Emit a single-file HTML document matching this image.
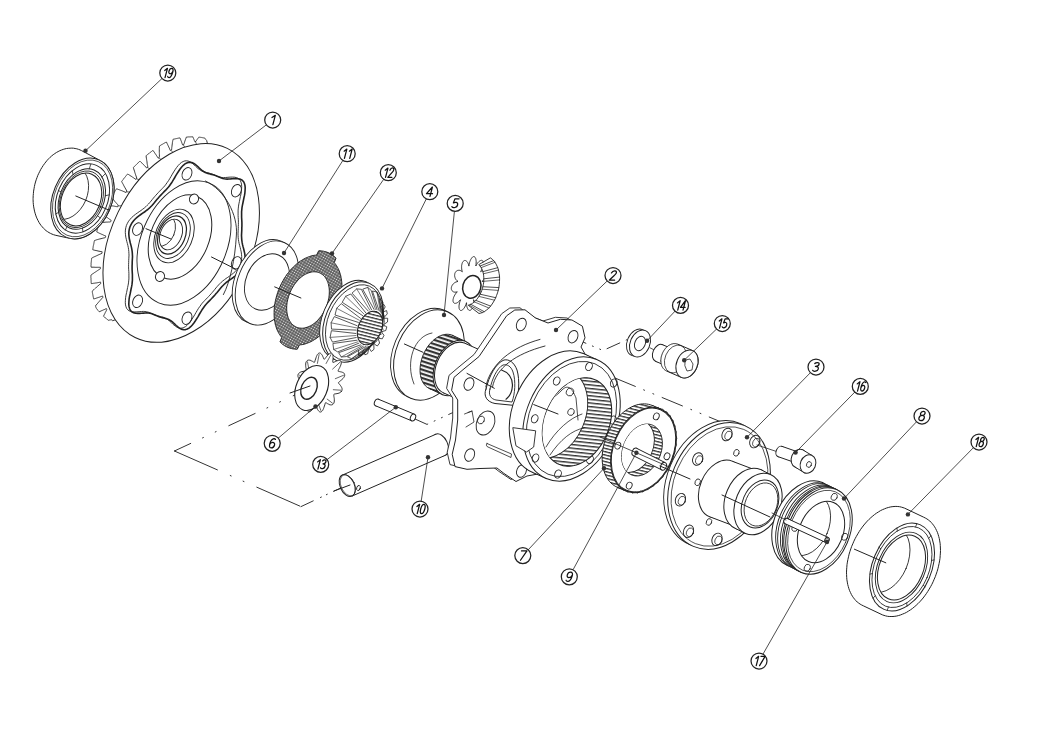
<!DOCTYPE html>
<html><head><meta charset="utf-8"><style>
html,body{margin:0;padding:0;background:#fff;}
svg{display:block;will-change:transform;}
</style></head><body>
<svg width="1043" height="736" viewBox="0 0 1043 736" stroke-linecap="round" stroke-linejoin="round">
<defs>
<pattern id="mesh" width="2.5" height="2.5" patternUnits="userSpaceOnUse" patternTransform="rotate(30)"><rect width="2.5" height="2.5" fill="#5e5e5e"/><circle cx="1.25" cy="1.25" r="0.72" fill="#eee"/></pattern>
<pattern id="spl2" width="3.2" height="3.2" patternUnits="userSpaceOnUse" patternTransform="rotate(14)"><rect width="3.2" height="3.2" fill="#fff"/><rect width="3.2" height="1.3" fill="#333"/></pattern>
<pattern id="spl3" width="3.6" height="3.6" patternUnits="userSpaceOnUse" patternTransform="rotate(6)"><rect width="3.6" height="3.6" fill="#fff"/><rect width="3.6" height="1.4" fill="#333"/></pattern>
<pattern id="spl" width="4" height="4" patternUnits="userSpaceOnUse" patternTransform="rotate(18)"><rect width="4" height="4" fill="#fff"/><rect width="4" height="2.2" fill="#333"/></pattern>
</defs>
<path d="M174.4,451.0 L308.6,388.6" stroke="#333" stroke-width="1.0" fill="none" stroke-dasharray="29 13 1 13 1 14" stroke-dashoffset="11"/>
<path d="M174.4,451.0 L301.0,506.6" stroke="#333" stroke-width="1.0" fill="none" stroke-dasharray="47 14 1 13 1 14" stroke-dashoffset="0"/>
<path d="M301.0,506.6 L346.0,485.5" stroke="#333" stroke-width="1.0" fill="none" stroke-dasharray="13.5 8 1 5.5 1 7" stroke-dashoffset="0"/>
<path d="M415.0,419.0 L427.0,424.4 L465.0,407.0" stroke="#333" stroke-width="1.0" fill="none" stroke-dasharray="14 7 1 7 1 7" stroke-dashoffset="0"/>
<path d="M573.0,337.8 L603.0,350.5 L628.5,339.0" stroke="#333" stroke-width="1.0" fill="none" stroke-dasharray="14 7 1 7 1 7" stroke-dashoffset="0"/>
<path d="M615.0,378.0 L720.0,421.5" stroke="#333" stroke-width="1.0" fill="none" stroke-dasharray="22 9 1 9 1 9" stroke-dashoffset="0"/>
<path d="M207.4,143.5 L206.7,140.6 L206.5,140.4 L206.3,140.1 L206.1,139.9 L205.9,139.7 L205.8,139.5 L205.6,139.2 L205.4,138.9 L205.2,138.7 L205.1,138.4 L204.9,138.1 L204.7,138.0 L204.4,138.0 L204.2,138.0 L204.0,137.9 L203.7,137.9 L203.5,137.8 L203.3,137.8 L203.1,137.7 L202.8,137.7 L202.6,137.7 L202.4,137.6 L202.1,137.6 L201.9,137.5 L201.7,137.5 L201.4,137.5 L201.2,137.4 L200.9,137.4 L200.7,137.4 L200.5,137.3 L200.2,137.3 L200.0,137.3 L199.8,137.3 L199.5,137.2 L199.3,137.2 L199.0,137.2 L198.8,137.2 L198.5,137.6 L198.2,138.0 L197.9,138.4 L197.6,138.9 L197.2,139.4 L196.9,139.8 L196.6,140.3 L196.3,140.8 L196.0,141.4 L195.8,141.4 L195.5,141.4 L195.3,141.5 L195.0,141.5 L194.8,141.6 L194.6,141.1 L194.4,140.7 L194.3,140.3 L194.1,139.8 L193.9,139.3 L193.7,138.8 L193.5,138.4 L193.3,137.9 L193.1,137.4 L192.9,136.8 L192.7,136.8 L192.4,136.8 L192.2,136.8 L191.9,136.8 L191.7,136.8 L191.4,136.8 L191.2,136.8 L190.9,136.8 L190.7,136.8 L190.4,136.9 L190.2,136.9 L189.9,136.9 L189.7,136.9 L189.4,136.9 L189.2,136.9 L188.9,136.9 L188.7,136.9 L188.4,136.9 L188.1,137.0 L187.9,137.0 L187.6,137.0 L187.4,137.0 L187.1,137.0 L186.9,137.0 L186.6,137.1 L186.3,137.1 L186.1,137.9 L185.8,138.6 L185.5,139.4 L185.2,140.2 L184.9,141.1 L184.6,141.9 L184.4,142.7 L184.1,143.6 L183.8,144.5 L183.6,144.6 L183.3,144.6 L183.1,144.7 L182.8,144.8 L182.6,144.9 L182.3,144.2 L182.1,143.6 L181.9,142.9 L181.6,142.2 L181.4,141.5 L181.1,140.8 L180.8,140.1 L180.6,139.4 L180.3,138.6 L180.0,137.9 L179.8,137.9 L179.5,138.0 L179.2,138.0 L179.0,138.1 L178.7,138.1 L178.4,138.2 L178.2,138.2 L177.9,138.3 L177.6,138.3 L177.4,138.4 L177.1,138.4 L176.8,138.5 L176.5,138.5 L176.3,138.6 L176.0,138.6 L175.7,138.7 L175.5,138.8 L175.2,138.8 L174.9,138.9 L174.6,139.0 L174.4,139.0 L174.1,139.1 L173.8,139.2 L173.5,139.2 L173.3,139.3 L173.0,139.4 L172.8,140.5 L172.6,141.6 L172.4,142.7 L172.3,143.9 L172.1,145.0 L172.0,146.2 L171.8,147.4 L171.7,148.6 L171.5,149.8 L171.3,150.0 L171.0,150.1 L170.8,150.2 L170.6,150.4 L170.3,150.5 L169.9,149.6 L169.6,148.8 L169.2,147.9 L168.8,147.1 L168.4,146.2 L168.0,145.4 L167.6,144.5 L167.2,143.7 L166.8,142.8 L166.4,142.0 L166.1,142.1 L165.9,142.3 L165.6,142.4 L165.3,142.6 L165.1,142.7 L164.8,142.9 L164.5,143.0 L164.2,143.2 L164.0,143.3 L163.7,143.5 L163.4,143.6 L163.2,143.8 L162.9,143.9 L162.6,144.1 L162.4,144.3 L162.1,144.4 L161.8,144.6 L161.5,144.7 L161.3,144.9 L161.0,145.1 L160.7,145.2 L160.5,145.4 L160.2,145.6 L159.9,145.7 L159.7,145.9 L159.4,146.1 L159.4,147.3 L159.3,148.6 L159.3,149.8 L159.3,151.1 L159.3,152.3 L159.4,153.6 L159.4,154.8 L159.4,156.1 L159.4,157.3 L159.2,157.5 L159.0,157.7 L158.7,157.9 L158.5,158.0 L158.2,158.2 L157.7,157.4 L157.2,156.6 L156.7,155.8 L156.2,155.1 L155.7,154.3 L155.1,153.5 L154.6,152.7 L154.1,152.0 L153.5,151.2 L152.9,150.4 L152.7,150.6 L152.4,150.8 L152.2,151.0 L151.9,151.2 L151.6,151.4 L151.4,151.6 L151.1,151.8 L150.8,152.0 L150.6,152.2 L150.3,152.4 L150.0,152.6 L149.8,152.8 L149.5,153.0 L149.2,153.2 L149.0,153.4 L148.7,153.6 L148.4,153.8 L148.2,154.0 L147.9,154.2 L147.7,154.5 L147.4,154.7 L147.1,154.9 L146.9,155.1 L146.6,155.3 L146.4,155.5 L146.1,155.7 L146.2,157.0 L146.4,158.2 L146.6,159.5 L146.8,160.7 L147.0,161.9 L147.1,163.2 L147.3,164.4 L147.6,165.6 L147.8,166.9 L147.5,167.1 L147.3,167.3 L147.1,167.5 L146.9,167.7 L146.6,167.9 L146.0,167.2 L145.3,166.5 L144.7,165.8 L144.0,165.2 L143.3,164.5 L142.7,163.8 L142.0,163.1 L141.3,162.5 L140.6,161.8 L139.9,161.1 L139.6,161.4 L139.4,161.6 L139.1,161.9 L138.9,162.1 L138.6,162.3 L138.4,162.6 L138.1,162.8 L137.9,163.1 L137.6,163.3 L137.4,163.6 L137.1,163.8 L136.9,164.0 L136.6,164.3 L136.4,164.5 L136.1,164.8 L135.9,165.0 L135.6,165.3 L135.4,165.5 L135.1,165.8 L134.9,166.0 L134.6,166.3 L134.4,166.6 L134.1,166.8 L133.9,167.1 L133.6,167.3 L133.4,167.6 L133.7,168.8 L134.1,170.0 L134.5,171.2 L134.8,172.3 L135.2,173.5 L135.6,174.7 L136.0,175.9 L136.4,177.0 L136.8,178.2 L136.6,178.4 L136.4,178.7 L136.2,178.9 L136.0,179.2 L135.8,179.4 L135.0,178.8 L134.2,178.3 L133.4,177.7 L132.6,177.2 L131.8,176.6 L131.0,176.1 L130.1,175.6 L129.3,175.0 L128.5,174.5 L127.6,174.0 L127.4,174.3 L127.1,174.6 L126.9,174.8 L126.7,175.1 L126.4,175.4 L126.2,175.7 L126.0,176.0 L125.7,176.3 L125.5,176.5 L125.3,176.8 L125.1,177.1 L124.8,177.4 L124.6,177.7 L124.4,178.0 L124.1,178.3 L123.9,178.5 L123.7,178.8 L123.5,179.1 L123.2,179.4 L123.0,179.7 L122.8,180.0 L122.6,180.3 L122.3,180.6 L122.1,180.9 L121.9,181.2 L121.7,181.5 L122.2,182.6 L122.8,183.7 L123.4,184.7 L123.9,185.8 L124.5,186.9 L125.1,187.9 L125.7,189.0 L126.3,190.0 L126.9,191.1 L126.7,191.4 L126.6,191.6 L126.4,191.9 L126.2,192.2 L126.0,192.5 L125.1,192.1 L124.1,191.7 L123.2,191.3 L122.3,190.9 L121.3,190.5 L120.4,190.2 L119.4,189.8 L118.5,189.5 L117.5,189.1 L116.5,188.8 L116.3,189.1 L116.1,189.4 L115.9,189.8 L115.7,190.1 L115.5,190.4 L115.3,190.7 L115.1,191.0 L114.9,191.3 L114.7,191.7 L114.5,192.0 L114.3,192.3 L114.1,192.6 L113.9,192.9 L113.7,193.3 L113.5,193.6 L113.3,193.9 L113.1,194.2 L112.9,194.6 L112.7,194.9 L112.5,195.2 L112.3,195.5 L112.1,195.9 L111.9,196.2 L111.7,196.5 L111.6,196.8 L111.4,197.2 L112.1,198.1 L112.9,199.0 L113.6,199.9 L114.4,200.9 L115.1,201.8 L115.9,202.6 L116.7,203.5 L117.5,204.4 L118.3,205.3 L118.1,205.6 L118.0,205.9 L117.8,206.2 L117.7,206.5 L117.5,206.8 L116.5,206.6 L115.4,206.4 L114.4,206.2 L113.4,206.0 L112.3,205.9 L111.3,205.7 L110.2,205.6 L109.2,205.4 L108.1,205.3 L107.1,205.2 L106.9,205.5 L106.7,205.9 L106.6,206.2 L106.4,206.6 L106.2,206.9 L106.1,207.3 L105.9,207.6 L105.7,207.9 L105.6,208.3 L105.4,208.6 L105.2,209.0 L105.1,209.3 L104.9,209.7 L104.8,210.0 L104.6,210.4 L104.5,210.7 L104.3,211.0 L104.1,211.4 L104.0,211.7 L103.8,212.1 L103.7,212.4 L103.5,212.8 L103.4,213.1 L103.2,213.5 L103.1,213.8 L102.9,214.2 L103.8,214.9 L104.7,215.6 L105.6,216.3 L106.5,217.0 L107.5,217.7 L108.4,218.4 L109.3,219.1 L110.2,219.7 L111.2,220.4 L111.0,220.7 L110.9,221.0 L110.8,221.3 L110.7,221.6 L110.5,221.9 L109.5,222.0 L108.4,222.0 L107.3,222.1 L106.2,222.1 L105.1,222.2 L104.0,222.3 L102.9,222.3 L101.8,222.4 L100.7,222.5 L99.6,222.6 L99.5,223.0 L99.4,223.3 L99.3,223.7 L99.1,224.1 L99.0,224.4 L98.9,224.8 L98.8,225.1 L98.7,225.5 L98.5,225.8 L98.4,226.2 L98.3,226.6 L98.2,226.9 L98.1,227.3 L98.0,227.6 L97.9,228.0 L97.7,228.3 L97.6,228.7 L97.5,229.1 L97.4,229.4 L97.3,229.8 L97.2,230.1 L97.1,230.5 L97.0,230.8 L96.9,231.2 L96.8,231.6 L96.7,231.9 L97.7,232.4 L98.7,232.9 L99.7,233.4 L100.7,233.8 L101.7,234.3 L102.7,234.7 L103.7,235.2 L104.7,235.6 L105.8,236.0 L105.7,236.3 L105.6,236.7 L105.5,237.0 L105.4,237.3 L105.3,237.6 L104.2,237.9 L103.1,238.1 L102.1,238.4 L101.0,238.7 L99.9,238.9 L98.8,239.2 L97.7,239.5 L96.6,239.8 L95.6,240.2 L94.5,240.5 L94.4,240.8 L94.3,241.2 L94.2,241.6 L94.2,241.9 L94.1,242.3 L94.0,242.6 L93.9,243.0 L93.9,243.3 L93.8,243.7 L93.7,244.1 L93.7,244.4 L93.6,244.8 L93.5,245.1 L93.4,245.5 L93.4,245.8 L93.3,246.2 L93.2,246.5 L93.2,246.9 L93.1,247.3 L93.1,247.6 L93.0,248.0 L92.9,248.3 L92.9,248.7 L92.8,249.0 L92.8,249.4 L92.7,249.7 L93.7,250.0 L94.8,250.3 L95.9,250.5 L96.9,250.7 L98.0,251.0 L99.0,251.2 L100.1,251.4 L101.1,251.6 L102.2,251.8 L102.1,252.1 L102.1,252.4 L102.0,252.7 L102.0,253.0 L101.9,253.4 L100.9,253.8 L99.8,254.3 L98.8,254.7 L97.8,255.2 L96.7,255.7 L95.7,256.2 L94.7,256.6 L93.6,257.1 L92.6,257.6 L91.6,258.2 L91.6,258.5 L91.5,258.9 L91.5,259.2 L91.5,259.5 L91.4,259.9 L91.4,260.2 L91.4,260.6 L91.3,260.9 L91.3,261.3 L91.3,261.6 L91.2,262.0 L91.2,262.3 L91.2,262.7 L91.2,263.0 L91.1,263.3 L91.1,263.7 L91.1,264.0 L91.1,264.4 L91.1,264.7 L91.0,265.1 L91.0,265.4 L91.0,265.7 L91.0,266.1 L91.0,266.4 L91.0,266.8 L91.0,267.1 L92.0,267.2 L93.1,267.2 L94.1,267.2 L95.2,267.3 L96.2,267.3 L97.3,267.3 L98.3,267.3 L99.4,267.3 L100.4,267.3 L100.4,267.6 L100.4,267.9 L100.4,268.2 L100.4,268.5 L100.4,268.8 L99.4,269.4 L98.4,270.0 L97.5,270.6 L96.5,271.3 L95.6,271.9 L94.6,272.5 L93.7,273.2 L92.7,273.8 L91.8,274.5 L90.9,275.2 L90.9,275.5 L90.9,275.8 L90.9,276.2 L90.9,276.5 L90.9,276.8 L90.9,277.2 L90.9,277.5 L90.9,277.8 L91.0,278.1 L91.0,278.5 L91.0,278.8 L91.0,279.1 L91.0,279.4 L91.0,279.8 L91.1,280.1 L91.1,280.4 L91.1,280.7 L91.1,281.1 L91.1,281.4 L91.2,281.7 L91.2,282.0 L91.2,282.4 L91.2,282.7 L91.3,283.0 L91.3,283.3 L91.3,283.6 L92.4,283.5 L93.4,283.3 L94.4,283.2 L95.5,283.0 L96.5,282.9 L97.5,282.7 L98.5,282.5 L99.6,282.3 L100.6,282.1 L100.6,282.4 L100.6,282.7 L100.7,283.0 L100.7,283.3 L100.7,283.6 L99.8,284.3 L99.0,285.0 L98.1,285.8 L97.3,286.5 L96.4,287.3 L95.6,288.1 L94.7,288.8 L93.9,289.6 L93.0,290.4 L92.2,291.2 L92.3,291.5 L92.3,291.8 L92.3,292.1 L92.4,292.4 L92.4,292.7 L92.5,293.0 L92.5,293.3 L92.6,293.6 L92.7,293.9 L92.7,294.2 L92.8,294.5 L92.8,294.8 L92.9,295.1 L92.9,295.4 L93.0,295.7 L93.0,296.0 L93.1,296.3 L93.2,296.6 L93.2,296.9 L93.3,297.2 L93.4,297.5 L93.4,297.8 L93.5,298.1 L93.5,298.4 L93.6,298.7 L93.7,299.0 L94.7,298.7 L95.7,298.4 L96.7,298.0 L97.7,297.7 L98.6,297.4 L99.6,297.1 L100.6,296.7 L101.6,296.4 L102.6,296.0 L102.6,296.3 L102.7,296.5 L102.8,296.8 L102.8,297.1 L102.9,297.3 L102.1,298.2 L101.4,299.0 L100.6,299.9 L99.9,300.7 L99.1,301.6 L98.4,302.4 L97.7,303.3 L96.9,304.1 L96.2,305.0 L95.5,305.9 L95.6,306.1 L95.6,306.4 L95.7,306.7 L95.8,307.0 L95.9,307.3 L96.0,307.5 L96.1,307.8 L96.2,308.1 L96.3,308.3 L96.5,308.5 L96.7,308.7 L96.8,308.9 L97.0,309.1 L97.2,309.3 L97.4,309.6 L97.5,309.8 L97.7,310.0 L97.9,310.2 L98.0,310.4 L98.2,310.6 L98.4,310.8 L98.6,311.0 L98.7,311.2 L98.9,311.4 L99.1,311.6 L99.2,311.8 L100.1,311.4 L101.0,311.0 L101.8,310.6 L102.6,310.3 L103.4,309.9 L104.2,309.6 L104.9,309.3 L105.7,308.9 L106.4,308.6 L106.5,308.9 L106.6,309.1 L106.7,309.4 L106.7,309.6 L106.8,309.8 L106.4,310.5 L106.0,311.2 L105.7,311.9 L105.3,312.5 L105.0,313.2 L104.7,313.8 L104.4,314.4 L104.1,315.0 L103.8,315.6 L103.5,316.2 L103.7,316.4 L103.9,316.5 L104.1,316.7 L104.3,316.9 L104.5,317.0 L104.7,317.2 L104.8,317.4 L105.0,317.5 L105.2,317.7 L105.4,317.9 L105.6,318.0 L105.8,318.2 L106.0,318.3 L106.2,318.5 L106.3,318.7 L106.5,318.8 L106.7,319.0 L106.9,319.1 L107.1,319.3 L107.3,319.4 L107.5,319.6 L107.7,319.7 L107.9,319.9 L108.1,320.0 L108.2,320.2 L108.4,320.3 L108.9,320.2 L109.3,320.1 L109.7,320.0 L110.1,319.9 L110.5,319.9 L110.8,319.8 L111.2,319.8 L111.5,319.7 L111.8,319.7 L112.0,319.9 L112.1,320.1 L112.2,320.3 L112.4,320.6 L112.5,320.8 L115.3,319.8 Z" stroke="#222" stroke-width="0.9" fill="#fff" />
<line x1="195.4" y1="141.5" x2="196.5" y2="144.2" stroke="#222" stroke-width="0.7" />
<line x1="183.2" y1="144.7" x2="184.7" y2="147.1" stroke="#222" stroke-width="0.7" />
<line x1="170.9" y1="150.2" x2="172.8" y2="152.3" stroke="#222" stroke-width="0.7" />
<line x1="158.8" y1="157.8" x2="161.1" y2="159.6" stroke="#222" stroke-width="0.7" />
<line x1="147.2" y1="167.4" x2="149.9" y2="168.8" stroke="#222" stroke-width="0.7" />
<line x1="136.3" y1="178.8" x2="139.4" y2="179.7" stroke="#222" stroke-width="0.7" />
<line x1="126.5" y1="191.8" x2="129.8" y2="192.1" stroke="#222" stroke-width="0.7" />
<line x1="117.9" y1="206.0" x2="121.5" y2="205.7" stroke="#222" stroke-width="0.7" />
<ellipse cx="181.2" cy="242.9" rx="70.2" ry="105.2" transform="rotate(26 181.2 242.9)" fill="#fff" stroke="#222" stroke-width="1.0" />
<path d="M238.4,267.8 L236.9,269.7 L235.3,271.5 L233.5,273.1 L231.6,274.6 L229.7,276.0 L227.8,277.3 L226.0,278.5 L224.3,279.8 L222.7,281.0 L221.2,282.3 L219.8,283.7 L218.5,285.0 L217.2,286.5 L216.0,287.9 L214.8,289.4 L213.6,290.9 L212.4,292.3 L211.2,293.7 L209.9,295.1 L208.6,296.5 L207.4,297.8 L206.1,299.1 L204.8,300.4 L203.5,301.8 L202.2,303.2 L201.0,304.8 L199.8,306.5 L198.5,308.3 L197.3,310.3 L196.0,312.5 L194.7,314.8 L193.3,317.1 L191.9,319.3 L190.4,321.5 L188.8,323.5 L187.2,325.2 L185.5,326.6 L183.8,327.5 L182.1,328.1 L180.4,328.2 L178.7,327.9 L177.1,327.3 L175.6,326.3 L174.1,325.2 L172.7,324.0 L171.4,322.7 L170.1,321.5 L168.9,320.4 L167.6,319.5 L166.4,318.7 L165.2,318.0 L163.9,317.5 L162.6,317.1 L161.4,316.8 L160.1,316.4 L158.8,316.1 L157.5,315.8 L156.3,315.4 L155.0,314.9 L153.8,314.5 L152.6,313.9 L151.4,313.4 L150.2,312.9 L149.0,312.4 L147.7,312.0 L146.3,311.7 L144.9,311.5 L143.3,311.4 L141.6,311.5 L139.9,311.6 L138.0,311.8 L136.1,311.9 L134.2,311.9 L132.4,311.8 L130.7,311.4 L129.1,310.8 L127.8,309.8 L126.7,308.5 L126.0,306.8 L125.5,304.9 L125.3,302.7 L125.4,300.3 L125.6,297.7 L126.0,295.1 L126.6,292.5 L127.1,290.0 L127.6,287.5 L128.1,285.2 L128.5,282.9 L128.7,280.9 L128.9,278.9 L128.9,277.0 L128.9,275.1 L128.9,273.3 L128.8,271.6 L128.7,269.8 L128.6,268.0 L128.6,266.2 L128.6,264.3 L128.7,262.5 L128.7,260.7 L128.8,258.8 L128.9,257.0 L129.0,255.1 L128.9,253.3 L128.8,251.4 L128.6,249.5 L128.3,247.6 L127.9,245.6 L127.4,243.6 L126.8,241.5 L126.3,239.3 L125.8,237.1 L125.5,234.8 L125.3,232.4 L125.4,230.1 L125.8,227.7 L126.4,225.5 L127.4,223.3 L128.6,221.2 L130.1,219.3 L131.7,217.5 L133.5,215.9 L135.4,214.4 L137.3,213.0 L139.2,211.7 L141.0,210.5 L142.7,209.2 L144.3,208.0 L145.8,206.7 L147.2,205.3 L148.5,204.0 L149.8,202.5 L151.0,201.1 L152.2,199.6 L153.4,198.1 L154.6,196.7 L155.8,195.3 L157.1,193.9 L158.4,192.5 L159.6,191.2 L160.9,189.9 L162.2,188.6 L163.5,187.2 L164.8,185.8 L166.0,184.2 L167.2,182.5 L168.5,180.7 L169.7,178.7 L171.0,176.5 L172.3,174.2 L173.7,171.9 L175.1,169.7 L176.6,167.5 L178.2,165.5 L179.8,163.8 L181.5,162.4 L183.2,161.5 L184.9,160.9 L186.6,160.8 L188.3,161.1 L189.9,161.7 L191.4,162.7 L192.9,163.8 L194.3,165.0 L195.6,166.3 L196.9,167.5 L198.1,168.6 L199.4,169.5 L200.6,170.3 L201.8,171.0 L203.1,171.5 L204.4,171.9 L205.6,172.2 L206.9,172.6 L208.2,172.9 L209.5,173.2 L210.7,173.6 L212.0,174.1 L213.2,174.5 L214.4,175.1 L215.6,175.6 L216.8,176.1 L218.0,176.6 L219.3,177.0 L220.7,177.3 L222.1,177.5 L223.7,177.6 L225.4,177.5 L227.1,177.4 L229.0,177.2 L230.9,177.1 L232.8,177.1 L234.6,177.2 L236.3,177.6 L237.9,178.2 L239.2,179.2 L240.3,180.5 L241.0,182.2 L241.5,184.1 L241.7,186.3 L241.6,188.7 L241.4,191.3 L241.0,193.9 L240.4,196.5 L239.9,199.0 L239.4,201.5 L238.9,203.8 L238.5,206.1 L238.3,208.1 L238.1,210.1 L238.1,212.0 L238.1,213.9 L238.1,215.7 L238.2,217.4 L238.3,219.2 L238.4,221.0 L238.4,222.8 L238.4,224.7 L238.3,226.5 L238.3,228.3 L238.2,230.2 L238.1,232.0 L238.0,233.9 L238.1,235.7 L238.2,237.6 L238.4,239.5 L238.7,241.4 L239.1,243.4 L239.6,245.4 L240.2,247.5 L240.7,249.7 L241.2,251.9 L241.5,254.2 L241.7,256.6 L241.6,258.9 L241.2,261.3 L240.6,263.5 L239.6,265.7 L238.4,267.8 Z" stroke="#222" stroke-width="0.9" fill="none" />
<path d="M241.9,269.3 L240.4,271.2 L238.8,273.0 L237.0,274.6 L235.1,276.1 L233.2,277.5 L231.3,278.8 L229.5,280.0 L227.8,281.3 L226.2,282.5 L224.7,283.8 L223.3,285.2 L222.0,286.5 L220.7,288.0 L219.5,289.4 L218.3,290.9 L217.1,292.4 L215.9,293.8 L214.7,295.2 L213.4,296.6 L212.1,298.0 L210.9,299.3 L209.6,300.6 L208.3,301.9 L207.0,303.3 L205.7,304.7 L204.5,306.3 L203.3,308.0 L202.0,309.8 L200.8,311.8 L199.5,314.0 L198.2,316.3 L196.8,318.6 L195.4,320.8 L193.9,323.0 L192.3,325.0 L190.7,326.7 L189.0,328.1 L187.3,329.0 L185.6,329.6 L183.9,329.7 L182.2,329.4 L180.6,328.8 L179.1,327.8 L177.6,326.7 L176.2,325.5 L174.9,324.2 L173.6,323.0 L172.4,321.9 L171.1,321.0 L169.9,320.2 L168.7,319.5 L167.4,319.0 L166.1,318.6 L164.9,318.3 L163.6,317.9 L162.3,317.6 L161.0,317.3 L159.8,316.9 L158.5,316.4 L157.3,316.0 L156.1,315.4 L154.9,314.9 L153.7,314.4 L152.5,313.9 L151.2,313.5 L149.8,313.2 L148.4,313.0 L146.8,312.9 L145.1,313.0 L143.4,313.1 L141.5,313.3 L139.6,313.4 L137.7,313.4 L135.9,313.3 L134.2,312.9 L132.6,312.3 L131.3,311.3 L130.2,310.0 L129.5,308.3 L129.0,306.4 L128.8,304.2 L128.9,301.8 L129.1,299.2 L129.5,296.6 L130.1,294.0 L130.6,291.5 L131.1,289.0 L131.6,286.7 L132.0,284.4 L132.2,282.4 L132.4,280.4 L132.4,278.5 L132.4,276.6 L132.4,274.8 L132.3,273.1 L132.2,271.3 L132.1,269.5 L132.1,267.7 L132.1,265.8 L132.2,264.0 L132.2,262.2 L132.3,260.3 L132.4,258.5 L132.5,256.6 L132.4,254.8 L132.3,252.9 L132.1,251.0 L131.8,249.1 L131.4,247.1 L130.9,245.1 L130.3,243.0 L129.8,240.8 L129.3,238.6 L129.0,236.3 L128.8,233.9 L128.9,231.6 L129.3,229.2 L129.9,227.0 L130.9,224.8 L132.1,222.7 L133.6,220.8 L135.2,219.0 L137.0,217.4 L138.9,215.9 L140.8,214.5 L142.7,213.2 L144.5,212.0 L146.2,210.7 L147.8,209.5 L149.3,208.2 L150.7,206.8 L152.0,205.5 L153.3,204.0 L154.5,202.6 L155.7,201.1 L156.9,199.6 L158.1,198.2 L159.3,196.8 L160.6,195.4 L161.9,194.0 L163.1,192.7 L164.4,191.4 L165.7,190.1 L167.0,188.7 L168.3,187.3 L169.5,185.7 L170.7,184.0 L172.0,182.2 L173.2,180.2 L174.5,178.0 L175.8,175.7 L177.2,173.4 L178.6,171.2 L180.1,169.0 L181.7,167.0 L183.3,165.3 L185.0,163.9 L186.7,163.0 L188.4,162.4 L190.1,162.3 L191.8,162.6 L193.4,163.2 L194.9,164.2 L196.4,165.3 L197.8,166.5 L199.1,167.8 L200.4,169.0 L201.6,170.1 L202.9,171.0 L204.1,171.8 L205.3,172.5 L206.6,173.0 L207.9,173.4 L209.1,173.7 L210.4,174.1 L211.7,174.4 L213.0,174.7 L214.2,175.1 L215.5,175.6 L216.7,176.0 L217.9,176.6 L219.1,177.1 L220.3,177.6 L221.5,178.1 L222.8,178.5 L224.2,178.8 L225.6,179.0 L227.2,179.1 L228.9,179.0 L230.6,178.9 L232.5,178.7 L234.4,178.6 L236.3,178.6 L238.1,178.7 L239.8,179.1 L241.4,179.7 L242.7,180.7 L243.8,182.0 L244.5,183.7 L245.0,185.6 L245.2,187.8 L245.1,190.2 L244.9,192.8 L244.5,195.4 L243.9,198.0 L243.4,200.5 L242.9,203.0 L242.4,205.3 L242.0,207.6 L241.8,209.6 L241.6,211.6 L241.6,213.5 L241.6,215.4 L241.6,217.2 L241.7,218.9 L241.8,220.7 L241.9,222.5 L241.9,224.3 L241.9,226.2 L241.8,228.0 L241.8,229.8 L241.7,231.7 L241.6,233.5 L241.5,235.4 L241.6,237.2 L241.7,239.1 L241.9,241.0 L242.2,242.9 L242.6,244.9 L243.1,246.9 L243.7,249.0 L244.2,251.2 L244.7,253.4 L245.0,255.7 L245.2,258.1 L245.1,260.4 L244.7,262.8 L244.1,265.0 L243.1,267.2 L241.9,269.3 Z" stroke="#222" stroke-width="1.6" fill="none" />
<ellipse cx="236.4" cy="262.9" rx="4.7" ry="6.5" transform="rotate(23 236.4 262.9)" fill="none" stroke="#222" stroke-width="0.9" />
<ellipse cx="187.0" cy="318.2" rx="4.7" ry="6.5" transform="rotate(23 187.0 318.2)" fill="none" stroke="#222" stroke-width="0.9" />
<ellipse cx="137.6" cy="301.3" rx="4.7" ry="6.5" transform="rotate(23 137.6 301.3)" fill="none" stroke="#222" stroke-width="0.9" />
<ellipse cx="137.6" cy="229.1" rx="4.7" ry="6.5" transform="rotate(23 137.6 229.1)" fill="none" stroke="#222" stroke-width="0.9" />
<ellipse cx="187.0" cy="173.8" rx="4.7" ry="6.5" transform="rotate(23 187.0 173.8)" fill="none" stroke="#222" stroke-width="0.9" />
<ellipse cx="236.4" cy="190.7" rx="4.7" ry="6.5" transform="rotate(23 236.4 190.7)" fill="none" stroke="#222" stroke-width="0.9" />
<ellipse cx="184.0" cy="243.0" rx="42.9" ry="65.0" transform="rotate(23 184.0 243.0)" fill="none" stroke="#222" stroke-width="0.9" />
<path d="M205.4,181 C225,190 238,215 236.4,235 C235,260 230,282 223.4,294.6" stroke="#222" stroke-width="0.9" fill="none"/>
<ellipse cx="180.0" cy="237.0" rx="29.0" ry="44.0" transform="rotate(23 180.0 237.0)" fill="none" stroke="#222" stroke-width="1.0" />
<ellipse cx="194.0" cy="199.0" rx="4.5" ry="5.0" transform="rotate(23 194.0 199.0)" fill="#fff" stroke="#222" stroke-width="0.9" />
<ellipse cx="160.0" cy="276.5" rx="4.5" ry="5.0" transform="rotate(23 160.0 276.5)" fill="#fff" stroke="#222" stroke-width="0.9" />
<ellipse cx="174.0" cy="236.0" rx="18.5" ry="28.0" transform="rotate(23 174.0 236.0)" fill="none" stroke="#222" stroke-width="0.9" />
<ellipse cx="173.0" cy="235.5" rx="15.8" ry="24.0" transform="rotate(23 173.0 235.5)" fill="none" stroke="#222" stroke-width="0.9" />
<ellipse cx="172.0" cy="235.0" rx="13.2" ry="20.0" transform="rotate(23 172.0 235.0)" fill="none" stroke="#222" stroke-width="1.2" />
<ellipse cx="171.0" cy="234.5" rx="10.6" ry="16.0" transform="rotate(23 171.0 234.5)" fill="none" stroke="#222" stroke-width="0.9" />
<clipPath id="r1c"><ellipse cx="171" cy="234.5" rx="10.6" ry="16" transform="rotate(23 171 234.5)"/></clipPath>
<g clip-path="url(#r1c)">
<ellipse cx="164.0" cy="231.0" rx="10.6" ry="16.0" transform="rotate(23 164.0 231.0)" fill="none" stroke="#222" stroke-width="0.8" />
</g>
<line x1="146.0" y1="228.7" x2="171.0" y2="239.0" stroke="#222" stroke-width="1.0" />
<line x1="211.5" y1="257.0" x2="235.5" y2="269.0" stroke="#222" stroke-width="1.0" />
<line x1="266.3" y1="124.9" x2="219.0" y2="161.0" stroke="#222" stroke-width="0.8" />
<circle cx="219.0" cy="161.0" r="2.2" fill="#333"/>
<path d="M33.1,198.0 L33.2,195.7 L33.4,193.4 L33.6,191.1 L34.0,188.8 L34.4,186.5 L34.9,184.2 L35.5,182.0 L36.2,179.8 L37.0,177.6 L37.8,175.4 L38.8,173.3 L39.8,171.3 L40.8,169.3 L42.0,167.4 L43.2,165.5 L44.5,163.7 L45.8,162.0 L47.2,160.3 L48.6,158.8 L50.1,157.3 L51.6,156.0 L53.2,154.7 L54.8,153.6 L56.4,152.5 L58.1,151.6 L59.8,150.7 L61.5,150.0 L63.2,149.4 L64.9,148.9 L66.6,148.5 L68.3,148.3 L70.1,148.2 L71.8,148.1 L73.5,148.2 L75.1,148.5 L76.8,148.8 L78.4,149.3 L80.0,149.9 L81.5,150.6 L100.2,160.5 L101.5,161.2 L102.8,162.1 L104.1,163.1 L105.3,164.1 L106.4,165.3 L107.4,166.5 L108.4,167.8 L109.3,169.3 L110.1,170.8 L110.9,172.3 L111.6,174.0 L112.2,175.7 L112.7,177.5 L113.1,179.3 L113.5,181.2 L113.8,183.1 L113.9,185.1 L114.0,187.1 L114.0,189.1 L114.0,191.2 L113.8,193.3 L113.5,195.4 L113.2,197.5 L112.8,199.6 L112.3,201.7 L111.7,203.8 L111.0,205.9 L110.3,207.9 L109.5,210.0 L108.6,212.0 L107.6,214.0 L106.6,215.9 L105.5,217.8 L104.3,219.6 L103.1,221.4 L101.8,223.1 L100.5,224.7 L99.1,226.3 L97.6,227.8 L96.2,229.2 L94.7,230.5 L93.1,231.8 L91.5,232.9 L89.9,234.0 L88.3,234.9 L86.7,235.8 L85.0,236.5 L83.4,237.2 L81.7,237.7 L80.1,238.2 L78.4,238.5 L76.8,238.7 L75.2,238.8 L73.5,238.8 L72.0,238.7 L70.4,238.5 L55.2,235.2 L53.6,234.7 L52.0,234.1 L50.5,233.4 L49.0,232.6 L47.6,231.7 L46.1,230.7 L44.8,229.5 L43.5,228.3 L42.3,226.9 L41.1,225.5 L40.0,224.0 L39.0,222.4 L38.1,220.7 L37.2,218.9 L36.4,217.1 L35.7,215.1 L35.1,213.2 L34.5,211.1 L34.1,209.0 L33.7,206.9 L33.4,204.7 L33.2,202.5 L33.1,200.2 Z" fill="#fff" stroke="#222" stroke-width="1.0"/>
<ellipse cx="82.4" cy="198.5" rx="29.4" ry="42.0" transform="rotate(23 82.4 198.5)" fill="#fff" stroke="#222" stroke-width="1.0" />
<ellipse cx="82.6" cy="198.4" rx="28.0" ry="40.0" transform="rotate(23 82.6 198.4)" fill="none" stroke="#222" stroke-width="0.7" />
<ellipse cx="82.4" cy="198.5" rx="25.2" ry="36.0" transform="rotate(23 82.4 198.5)" fill="none" stroke="#222" stroke-width="1.0" />
<line x1="100.2" y1="217.9" x2="97.6" y2="215.8" stroke="#222" stroke-width="0.8" />
<line x1="82.9" y1="231.9" x2="82.5" y2="228.0" stroke="#222" stroke-width="0.8" />
<line x1="65.3" y1="230.3" x2="67.0" y2="226.7" stroke="#222" stroke-width="0.8" />
<line x1="55.6" y1="214.0" x2="58.5" y2="212.4" stroke="#222" stroke-width="0.8" />
<line x1="58.3" y1="190.5" x2="60.9" y2="191.8" stroke="#222" stroke-width="0.8" />
<line x1="72.2" y1="170.8" x2="73.1" y2="174.6" stroke="#222" stroke-width="0.8" />
<line x1="90.8" y1="164.2" x2="89.3" y2="168.8" stroke="#222" stroke-width="0.8" />
<line x1="105.3" y1="173.7" x2="102.0" y2="177.1" stroke="#222" stroke-width="0.8" />
<line x1="109.0" y1="194.9" x2="105.3" y2="195.7" stroke="#222" stroke-width="0.8" />
<ellipse cx="81.8" cy="199.0" rx="22.0" ry="31.5" transform="rotate(23 81.8 199.0)" fill="none" stroke="#222" stroke-width="1.0" />
<ellipse cx="81.4" cy="199.3" rx="20.6" ry="29.5" transform="rotate(23 81.4 199.3)" fill="none" stroke="#222" stroke-width="0.8" />
<ellipse cx="81.0" cy="199.5" rx="19.2" ry="27.5" transform="rotate(23 81.0 199.5)" fill="none" stroke="#222" stroke-width="1.0" />
<clipPath id="b19"><ellipse cx="81" cy="199.5" rx="19.3" ry="27.5" transform="rotate(23 81 199.5)"/></clipPath>
<g clip-path="url(#b19)">
<ellipse cx="68.0" cy="193.0" rx="19.2" ry="27.5" transform="rotate(23 68.0 193.0)" fill="none" stroke="#222" stroke-width="0.8" />
</g>
<line x1="75.8" y1="196.0" x2="108.7" y2="210.0" stroke="#222" stroke-width="1.0" />
<line x1="162.0" y1="78.5" x2="85.5" y2="150.8" stroke="#222" stroke-width="0.8" />
<circle cx="85.5" cy="150.8" r="2.2" fill="#333"/>
<ellipse cx="264.0" cy="281.7" rx="29.0" ry="44.0" transform="rotate(23 264.0 281.7)" fill="#fff" stroke="#222" stroke-width="0.9" />
<ellipse cx="267.0" cy="283.0" rx="29.0" ry="44.0" transform="rotate(23 267.0 283.0)" fill="#fff" stroke="#222" stroke-width="0.9" />
<ellipse cx="267.0" cy="282.0" rx="21.1" ry="29.3" transform="rotate(23 267.0 282.0)" fill="none" stroke="#222" stroke-width="0.9" />
<line x1="342.9" y1="160.4" x2="284.0" y2="253.0" stroke="#222" stroke-width="0.8" />
<circle cx="284.0" cy="253.0" r="2.2" fill="#333"/>
<ellipse cx="308.0" cy="300.0" rx="19.5" ry="29.5" transform="rotate(23 308.0 300.0)" fill="#fff" stroke="none" stroke-width="0" />
<path d="M336.6,312.1 L335.9,313.6 L335.2,315.1 L334.5,316.6 L333.7,318.0 L332.9,319.4 L332.1,320.9 L331.3,322.2 L330.4,323.6 L329.5,324.9 L328.6,326.2 L327.6,327.4 L326.6,328.7 L325.6,329.9 L324.6,331.0 L323.5,332.1 L322.5,333.2 L321.4,334.2 L320.3,335.2 L319.2,336.2 L318.1,337.1 L316.9,338.0 L315.8,338.8 L314.6,339.5 L313.5,340.3 L312.3,340.9 L311.1,341.6 L309.9,342.1 L308.7,342.6 L307.6,343.1 L306.4,343.5 L305.2,343.9 L304.0,344.2 L302.8,344.5 L301.7,344.7 L300.5,344.8 L299.4,344.9 L297.3,349.2 L296.0,349.2 L294.8,349.1 L293.6,349.0 L292.4,348.8 L291.3,348.5 L290.1,348.2 L289.0,347.8 L287.9,347.4 L286.8,346.9 L285.7,346.4 L284.7,345.8 L283.7,345.1 L282.7,344.4 L281.8,343.6 L280.9,342.8 L280.0,341.9 L281.7,337.4 L281.0,336.5 L280.3,335.6 L279.6,334.6 L279.0,333.6 L278.4,332.5 L277.8,331.4 L277.3,330.3 L276.8,329.1 L276.4,327.9 L275.9,326.6 L275.6,325.4 L275.2,324.0 L275.0,322.7 L274.7,321.3 L274.5,319.9 L274.3,318.5 L274.2,317.1 L274.1,315.6 L274.1,314.1 L274.1,312.6 L274.1,311.1 L274.2,309.6 L274.3,308.1 L274.4,306.5 L274.6,305.0 L274.9,303.4 L275.2,301.8 L275.5,300.3 L275.9,298.7 L276.3,297.1 L276.7,295.6 L277.2,294.0 L277.7,292.5 L278.2,290.9 L278.8,289.4 L279.4,287.9 L280.1,286.4 L280.8,284.9 L281.5,283.4 L282.3,282.0 L283.1,280.6 L283.9,279.1 L284.7,277.8 L285.6,276.4 L286.5,275.1 L287.4,273.8 L288.4,272.6 L289.4,271.3 L290.4,270.1 L291.4,269.0 L292.5,267.9 L293.5,266.8 L294.6,265.8 L295.7,264.8 L296.8,263.8 L297.9,262.9 L299.1,262.0 L300.2,261.2 L301.4,260.5 L302.5,259.7 L303.7,259.1 L304.9,258.4 L306.1,257.9 L307.3,257.4 L308.4,256.9 L309.6,256.5 L310.8,256.1 L312.0,255.8 L313.2,255.5 L314.3,255.3 L315.5,255.2 L316.6,255.1 L318.7,250.8 L320.0,250.8 L321.2,250.9 L322.4,251.0 L323.6,251.2 L324.7,251.5 L325.9,251.8 L327.0,252.2 L328.1,252.6 L329.2,253.1 L330.3,253.6 L331.3,254.2 L332.3,254.9 L333.3,255.6 L334.2,256.4 L335.1,257.2 L336.0,258.1 L334.3,262.6 L335.0,263.5 L335.7,264.4 L336.4,265.4 L337.0,266.4 L337.6,267.5 L338.2,268.6 L338.7,269.7 L339.2,270.9 L339.6,272.1 L340.1,273.4 L340.4,274.6 L340.8,276.0 L341.0,277.3 L341.3,278.7 L341.5,280.1 L341.7,281.5 L341.8,282.9 L341.9,284.4 L341.9,285.9 L341.9,287.4 L341.9,288.9 L341.8,290.4 L341.7,291.9 L341.6,293.5 L341.4,295.0 L341.1,296.6 L340.8,298.2 L340.5,299.7 L340.1,301.3 L339.7,302.9 L339.3,304.4 L338.8,306.0 L338.3,307.5 L337.8,309.1 L337.2,310.6 L336.6,312.1 Z M325.9,307.6 L326.5,306.2 L327.0,304.7 L327.5,303.3 L327.9,301.8 L328.3,300.3 L328.6,298.8 L328.9,297.4 L329.1,295.9 L329.2,294.5 L329.3,293.0 L329.3,291.6 L329.3,290.2 L329.2,288.8 L329.0,287.5 L328.8,286.2 L328.6,284.9 L328.2,283.7 L327.9,282.5 L327.4,281.4 L326.9,280.3 L326.4,279.3 L325.8,278.3 L325.2,277.4 L324.5,276.5 L323.8,275.7 L323.0,275.0 L322.2,274.4 L321.3,273.8 L320.4,273.3 L319.5,272.8 L318.6,272.5 L317.6,272.2 L316.6,272.0 L315.5,271.9 L314.5,271.8 L313.4,271.8 L312.3,271.9 L311.2,272.1 L310.1,272.4 L309.0,272.7 L307.9,273.1 L306.8,273.6 L305.7,274.1 L304.6,274.7 L303.5,275.4 L302.4,276.2 L301.3,277.0 L300.3,277.9 L299.2,278.8 L298.2,279.8 L297.3,280.9 L296.3,282.0 L295.4,283.2 L294.5,284.4 L293.7,285.6 L292.9,286.9 L292.1,288.2 L291.4,289.6 L290.7,291.0 L290.1,292.4 L289.5,293.8 L289.0,295.3 L288.5,296.7 L288.1,298.2 L287.7,299.7 L287.4,301.2 L287.1,302.6 L286.9,304.1 L286.8,305.5 L286.7,307.0 L286.7,308.4 L286.7,309.8 L286.8,311.2 L287.0,312.5 L287.2,313.8 L287.4,315.1 L287.8,316.3 L288.1,317.5 L288.6,318.6 L289.1,319.7 L289.6,320.7 L290.2,321.7 L290.8,322.6 L291.5,323.5 L292.2,324.3 L293.0,325.0 L293.8,325.6 L294.7,326.2 L295.6,326.7 L296.5,327.2 L297.4,327.5 L298.4,327.8 L299.4,328.0 L300.5,328.1 L301.5,328.2 L302.6,328.2 L303.7,328.1 L304.8,327.9 L305.9,327.6 L307.0,327.3 L308.1,326.9 L309.2,326.4 L310.3,325.9 L311.4,325.3 L312.5,324.6 L313.6,323.8 L314.7,323.0 L315.7,322.1 L316.8,321.2 L317.8,320.2 L318.7,319.1 L319.7,318.0 L320.6,316.8 L321.5,315.6 L322.3,314.4 L323.1,313.1 L323.9,311.8 L324.6,310.4 L325.3,309.0 L325.9,307.6 Z" fill="url(#mesh)" fill-rule="evenodd" stroke="#222" stroke-width="1"/>
<line x1="274.7" y1="286.9" x2="300.9" y2="298.0" stroke="#222" stroke-width="1.0" />
<line x1="383.7" y1="179.3" x2="332.0" y2="253.4" stroke="#222" stroke-width="0.8" />
<circle cx="332.0" cy="253.4" r="2.2" fill="#333"/>
<ellipse cx="350.0" cy="320.5" rx="27.7" ry="42.0" transform="rotate(23 350.0 320.5)" fill="#fff" stroke="#222" stroke-width="0.9" />
<ellipse cx="353.0" cy="322.0" rx="27.7" ry="42.0" transform="rotate(23 353.0 322.0)" fill="#fff" stroke="#222" stroke-width="1.0" />
<ellipse cx="354.0" cy="322.5" rx="26.1" ry="39.5" transform="rotate(23 354.0 322.5)" fill="none" stroke="#222" stroke-width="0.8" />
<path d="M379.7,337.2 L375.8,337.7 L373.2,344.2 L368.3,347.7 L377.0,340.7" stroke="#222" stroke-width="0.75" fill="none" />
<line x1="373.2" y1="344.2" x2="378.4" y2="339.0" stroke="#222" stroke-width="0.6" />
<path d="M374.7,343.0 L367.1,348.9 L362.9,354.1 L357.9,355.0 L371.5,345.2" stroke="#222" stroke-width="0.75" fill="none" />
<line x1="362.9" y1="354.1" x2="373.1" y2="344.2" stroke="#222" stroke-width="0.6" />
<path d="M368.9,346.2 L356.7,355.6 L351.7,358.7 L347.4,356.8 L365.6,346.6" stroke="#222" stroke-width="0.75" fill="none" />
<line x1="351.7" y1="358.7" x2="367.2" y2="346.5" stroke="#222" stroke-width="0.6" />
<path d="M363.3,346.3 L346.3,356.6 L341.3,357.0 L338.6,352.7 L360.6,344.9" stroke="#222" stroke-width="0.75" fill="none" />
<line x1="341.3" y1="357.0" x2="361.9" y2="345.7" stroke="#222" stroke-width="0.6" />
<path d="M358.8,343.2 L337.7,351.9 L333.7,349.5 L332.9,343.5 L357.1,340.2" stroke="#222" stroke-width="0.75" fill="none" />
<line x1="333.7" y1="349.5" x2="357.9" y2="341.8" stroke="#222" stroke-width="0.6" />
<path d="M356.3,337.5 L332.5,342.1 L330.1,337.4 L331.4,330.7 L355.9,333.5" stroke="#222" stroke-width="0.75" fill="none" />
<line x1="330.1" y1="337.4" x2="356.0" y2="335.5" stroke="#222" stroke-width="0.6" />
<path d="M356.2,330.1 L331.5,329.1 L331.1,322.8 L334.3,316.6 L357.1,325.7" stroke="#222" stroke-width="0.75" fill="none" />
<line x1="331.1" y1="322.8" x2="356.6" y2="327.9" stroke="#222" stroke-width="0.6" />
<path d="M358.4,322.4 L335.0,315.0 L336.7,308.3 L341.2,303.6 L360.6,318.4" stroke="#222" stroke-width="0.75" fill="none" />
<line x1="336.7" y1="308.3" x2="359.4" y2="320.3" stroke="#222" stroke-width="0.6" />
<path d="M362.7,315.6 L342.2,302.3 L345.7,296.3 L350.8,294.0 L365.7,312.7" stroke="#222" stroke-width="0.75" fill="none" />
<line x1="345.7" y1="296.3" x2="364.1" y2="314.1" stroke="#222" stroke-width="0.6" />
<path d="M368.2,311.0 L352.0,293.1 L356.7,288.9 L361.4,289.3 L371.5,309.7" stroke="#222" stroke-width="0.75" fill="none" />
<line x1="356.7" y1="288.9" x2="369.8" y2="310.2" stroke="#222" stroke-width="0.6" />
<path d="M374.0,309.4 L362.7,289.2 L367.7,287.4 L371.3,290.5 L377.1,309.8" stroke="#222" stroke-width="0.75" fill="none" />
<line x1="367.7" y1="287.4" x2="375.6" y2="309.5" stroke="#222" stroke-width="0.6" />
<path d="M379.2,310.9 L372.4,291.0 L376.9,292.0 L378.7,297.3 L381.4,313.1" stroke="#222" stroke-width="0.75" fill="none" />
<line x1="376.9" y1="292.0" x2="380.4" y2="311.9" stroke="#222" stroke-width="0.6" />
<path d="M382.7,315.4 L379.4,298.5 L382.7,302.1 L382.4,308.6 L383.8,319.0" stroke="#222" stroke-width="0.75" fill="none" />
<line x1="382.7" y1="302.1" x2="383.3" y2="317.1" stroke="#222" stroke-width="0.6" />
<path d="M384.1,322.1 L382.5,310.1 L384.0,315.7 L381.7,322.3 L383.8,326.4" stroke="#222" stroke-width="0.75" fill="none" />
<line x1="384.0" y1="315.7" x2="384.0" y2="324.2" stroke="#222" stroke-width="0.6" />
<path d="M383.0,329.8 L381.3,324.0 L380.6,330.6 L376.7,336.2 L381.4,334.1" stroke="#222" stroke-width="0.75" fill="none" />
<line x1="380.6" y1="330.6" x2="382.3" y2="332.0" stroke="#222" stroke-width="0.6" />
<path d="M380.1,307.2 L383.8,304.4 L385.2,306.9 L382.6,311.5 L382.8,312.0 L386.6,310.6 L387.3,313.8 L384.0,317.5 L384.0,318.2 L387.7,318.3 L387.5,322.0 L383.7,324.5 L383.6,325.2 L386.8,326.8 L385.8,330.5 L381.9,331.6 L381.7,332.3 L384.0,335.3 L382.3,338.8 L378.7,338.3 L378.3,338.9 L379.6,343.0 L377.3,346.0 L374.3,344.0 L373.8,344.5 L374.0,349.3 L371.3,351.5 L369.2,348.2 L368.7,348.5 L367.7,353.7 L364.9,354.8 L363.8,350.5 L363.3,350.6 L361.3,355.6 L358.6,355.6 L358.6,350.7" stroke="#222" stroke-width="0.8" fill="none" />
<path d="M380.63,332.51 L380.16,333.56 L379.65,334.58 L379.09,335.57 L378.50,336.53 L377.87,337.45 L377.21,338.33 L376.51,339.17 L375.79,339.96 L375.04,340.70 L374.27,341.39 L373.48,342.01 L372.68,342.58 L371.87,343.09 L371.05,343.53 L370.22,343.90 L369.39,344.21 L368.57,344.44 L367.75,344.61 L366.94,344.70 L366.15,344.73 L365.37,344.68 L364.61,344.56 L363.87,344.37 L363.16,344.11 L362.48,343.78 L361.83,343.38 L361.22,342.92 L360.64,342.39 L360.11,341.80 L359.61,341.16 L359.17,340.45 L358.76,339.69 L358.41,338.89 L358.10,338.03 L357.85,337.14 L357.65,336.20 L357.50,335.23 L357.40,334.23 L357.36,333.20 L357.37,332.15 L357.44,331.08 L357.56,330.00 L357.73,328.90 L357.96,327.81 L358.24,326.72 L358.57,325.63 L358.94,324.55 L359.37,323.49 L359.84,322.44 L360.35,321.42 L360.91,320.43 L361.50,319.47 L362.13,318.55 L362.79,317.67 L363.49,316.83 L364.21,316.04 L364.96,315.30 L365.73,314.61 L366.52,313.99 L367.32,313.42 L368.13,312.91 L368.95,312.47 L369.78,312.10 L370.61,311.79 L371.43,311.56 L372.25,311.39 L373.06,311.30 L373.85,311.27 L374.63,311.32 L375.39,311.44 L376.13,311.63 L376.84,311.89 L377.52,312.22 L378.17,312.62 L378.78,313.08 L379.36,313.61 L379.89,314.20 L380.39,314.84 L380.83,315.55 L381.24,316.31 L381.59,317.11 L381.90,317.97 L382.15,318.86 L382.35,319.80 L382.50,320.77 L382.60,321.77 L382.64,322.80 L382.63,323.85 L382.56,324.92 L382.44,326.00 L382.27,327.10 L382.04,328.19 L381.76,329.28 L381.43,330.37 L381.06,331.45 Z" fill="url(#spl2)" stroke="#222" stroke-width="1.1" />
<line x1="426.3" y1="198.9" x2="382.0" y2="288.4" stroke="#222" stroke-width="0.8" />
<circle cx="382.0" cy="288.4" r="2.2" fill="#333"/>
<path d="M341.3,391.5 L340.7,392.2 L339.9,392.7 L339.0,393.1 L338.0,393.4 L337.0,393.6 L336.0,393.8 L335.1,393.9 L334.3,394.1 L333.8,394.5 L333.8,395.3 L333.9,396.4 L334.1,397.5 L334.3,398.7 L334.3,399.8 L334.3,401.0 L334.2,402.0 L333.9,403.0 L333.5,403.7 L333.0,404.3 L332.3,404.7 L331.6,404.9 L330.8,404.9 L330.0,404.8 L329.1,404.5 L328.3,404.0 L327.4,403.6 L326.7,403.1 L326.0,402.7 L325.4,402.8 L325.1,403.7 L324.8,404.8 L324.4,406.0 L324.0,407.2 L323.6,408.4 L323.1,409.5 L322.6,410.5 L322.0,411.2 L321.4,411.7 L320.7,412.0 L320.1,412.0 L319.4,411.7 L318.8,411.2 L318.3,410.5 L317.7,409.7 L317.3,408.7 L316.8,407.7 L316.5,406.8 L316.1,406.0 L315.6,405.7 L315.0,406.4 L314.3,407.3 L313.6,408.2 L312.8,409.2 L311.9,410.1 L311.1,410.8 L310.3,411.4 L309.5,411.8 L308.9,411.9 L308.3,411.7 L307.8,411.3 L307.4,410.7 L307.1,409.8 L307.0,408.7 L307.0,407.6 L307.0,406.4 L307.1,405.1 L307.2,404.0 L307.2,403.0 L307.0,402.4 L306.3,402.7 L305.4,403.1 L304.4,403.5 L303.4,404.0 L302.4,404.3 L301.5,404.6 L300.6,404.6 L299.9,404.5 L299.3,404.2 L299.0,403.6 L298.8,402.9 L298.7,402.0 L298.9,401.0 L299.2,399.9 L299.7,398.8 L300.2,397.6 L300.8,396.5 L301.4,395.4 L301.8,394.5 L301.9,393.8 L301.2,393.6 L300.4,393.4 L299.4,393.2 L298.5,393.0 L297.6,392.7 L296.8,392.4 L296.1,391.9 L295.6,391.3 L295.4,390.6 L295.3,389.9 L295.4,389.1 L295.8,388.2 L296.3,387.3 L297.0,386.5 L297.9,385.6 L298.8,384.8 L299.7,384.1 L300.5,383.4 L301.3,382.7 L301.6,382.1 L301.2,381.5 L300.6,380.8 L300.0,380.1 L299.4,379.3 L298.8,378.4 L298.3,377.5 L298.0,376.7 L297.9,375.8 L298.0,374.9 L298.2,374.2 L298.7,373.5 L299.3,372.8 L300.1,372.3 L301.0,371.9 L302.0,371.6 L303.0,371.4 L304.0,371.2 L304.9,371.1 L305.7,370.9 L306.2,370.5 L306.2,369.7 L306.1,368.6 L305.9,367.5 L305.7,366.3 L305.7,365.2 L305.7,364.0 L305.8,363.0 L306.1,362.0 L306.5,361.3 L307.0,360.7 L307.7,360.3 L308.4,360.1 L309.2,360.1 L310.0,360.2 L310.9,360.5 L311.7,361.0 L312.6,361.4 L313.3,361.9 L314.0,362.3 L314.6,362.2 L314.9,361.3 L315.2,360.2 L315.6,359.0 L316.0,357.8 L316.4,356.6 L316.9,355.5 L317.4,354.5 L318.0,353.8 L318.6,353.3 L319.3,353.0 L319.9,353.0 L320.6,353.3 L321.2,353.8 L321.7,354.5 L322.3,355.3 L322.7,356.3 L323.2,357.3 L323.5,358.2 L323.9,359.0 L324.4,359.3 L325.0,358.6 L325.7,357.7 L326.4,356.8 L327.2,355.8 L328.1,354.9 L328.9,354.2 L329.7,353.6 L330.5,353.2 L331.1,353.1 L331.7,353.3 L332.2,353.7 L332.6,354.3 L332.9,355.2 L333.0,356.3 L333.0,357.4 L333.0,358.6 L332.9,359.9 L332.8,361.0 L332.8,362.0 L333.0,362.6 L333.7,362.3 L334.6,361.9 L335.6,361.5 L336.6,361.0 L337.6,360.7 L338.5,360.4 L339.4,360.4 L340.1,360.5 L340.7,360.8 L341.0,361.4 L341.2,362.1 L341.3,363.0 L341.1,364.0 L340.8,365.1 L340.3,366.2 L339.8,367.4 L339.2,368.5 L338.6,369.6 L338.2,370.5 L338.1,371.2 L338.8,371.4 L339.6,371.6 L340.6,371.8 L341.5,372.0 L342.4,372.3 L343.2,372.6 L343.9,373.1 L344.4,373.7 L344.6,374.4 L344.7,375.1 L344.6,375.9 L344.2,376.8 L343.7,377.7 L343.0,378.5 L342.1,379.4 L341.2,380.2 L340.3,380.9 L339.5,381.6 L338.7,382.3 L338.4,382.9 L338.8,383.5 L339.4,384.2 L340.0,384.9 L340.6,385.7 L341.2,386.6 L341.7,387.5 L342.0,388.3 L342.1,389.2 L342.0,390.1 L341.8,390.8 L341.3,391.5 Z" stroke="#222" stroke-width="0.9" fill="#fff" />
<line x1="340.8" y1="390.2" x2="333.3" y2="389.7" stroke="#222" stroke-width="0.7" />
<line x1="332.5" y1="403.2" x2="327.2" y2="399.1" stroke="#222" stroke-width="0.7" />
<line x1="320.9" y1="410.5" x2="318.6" y2="404.6" stroke="#222" stroke-width="0.7" />
<line x1="309.0" y1="410.4" x2="309.9" y2="404.5" stroke="#222" stroke-width="0.7" />
<line x1="300.0" y1="402.8" x2="303.4" y2="398.9" stroke="#222" stroke-width="0.7" />
<line x1="296.5" y1="389.7" x2="300.7" y2="389.3" stroke="#222" stroke-width="0.7" />
<line x1="299.2" y1="374.8" x2="302.7" y2="378.3" stroke="#222" stroke-width="0.7" />
<line x1="307.5" y1="361.8" x2="308.8" y2="368.9" stroke="#222" stroke-width="0.7" />
<line x1="319.1" y1="354.5" x2="317.4" y2="363.4" stroke="#222" stroke-width="0.7" />
<line x1="331.0" y1="354.6" x2="326.1" y2="363.5" stroke="#222" stroke-width="0.7" />
<line x1="340.0" y1="362.2" x2="332.6" y2="369.1" stroke="#222" stroke-width="0.7" />
<line x1="343.5" y1="375.3" x2="335.3" y2="378.7" stroke="#222" stroke-width="0.7" />
<ellipse cx="311.7" cy="388.0" rx="15.5" ry="23.5" transform="rotate(23 311.7 388.0)" fill="#fff" stroke="#222" stroke-width="1.1" />
<ellipse cx="309.0" cy="388.3" rx="7.6" ry="11.5" transform="rotate(23 309.0 388.3)" fill="none" stroke="#222" stroke-width="1.4" />
<line x1="290.0" y1="393.0" x2="310.0" y2="386.0" stroke="#222" stroke-width="1.0" />
<line x1="278.3" y1="438.1" x2="315.5" y2="406.5" stroke="#222" stroke-width="0.8" />
<circle cx="315.5" cy="406.5" r="2.2" fill="#333"/>
<path d="M486.2,288.5 L485.9,289.1 L485.6,289.7 L485.1,290.2 L484.6,290.7 L484.1,291.1 L483.5,291.4 L482.8,291.7 L482.0,291.9 L481.2,292.0 L480.2,291.9 L479.3,291.7 L480.0,293.0 L480.5,294.0 L480.8,295.0 L481.0,295.9 L481.1,296.9 L481.2,297.7 L481.2,298.6 L481.1,299.4 L480.9,300.1 L480.7,300.8 L480.4,301.4 L480.0,301.9 L479.7,302.4 L479.2,302.7 L478.8,303.0 L478.3,303.1 L477.7,303.2 L477.2,303.1 L476.6,302.9 L476.0,302.6 L475.4,302.2 L474.8,301.5 L474.1,300.6 L473.5,299.7 L473.6,301.5 L473.6,302.9 L473.4,304.2 L473.2,305.3 L473.0,306.3 L472.7,307.2 L472.3,308.0 L472.0,308.7 L471.6,309.2 L471.2,309.7 L470.7,310.1 L470.3,310.3 L469.9,310.4 L469.4,310.4 L469.0,310.2 L468.6,310.0 L468.2,309.6 L467.8,309.0 L467.5,308.4 L467.2,307.6 L466.9,306.6 L466.7,305.5 L466.6,304.1 L466.5,302.7 L465.9,304.6 L465.3,305.9 L464.8,307.0 L464.2,307.9 L463.7,308.6 L463.1,309.3 L462.6,309.8 L462.1,310.1 L461.6,310.4 L461.1,310.5 L460.7,310.5 L460.3,310.3 L460.0,310.1 L459.7,309.7 L459.4,309.2 L459.2,308.6 L459.1,307.9 L459.0,307.0 L459.0,306.1 L459.1,305.1 L459.3,304.0 L459.6,302.7 L460.0,301.2 L460.5,299.7 L459.3,301.1 L458.4,301.9 L457.6,302.5 L456.9,302.9 L456.2,303.2 L455.6,303.3 L455.1,303.4 L454.6,303.3 L454.1,303.1 L453.8,302.8 L453.5,302.5 L453.2,302.0 L453.1,301.5 L453.0,300.8 L453.0,300.1 L453.1,299.4 L453.3,298.6 L453.5,297.7 L453.9,296.8 L454.3,295.9 L454.9,294.9 L455.5,293.9 L456.4,292.8 L457.3,291.8 L456.0,292.1 L455.0,292.2 L454.3,292.1 L453.6,291.9 L453.0,291.6 L452.5,291.2 L452.1,290.8 L451.8,290.3 L451.5,289.8 L451.4,289.2 L451.3,288.6 L451.3,288.0 L451.4,287.3 L451.6,286.6 L451.9,286.0 L452.2,285.3 L452.6,284.7 L453.1,284.0 L453.7,283.5 L454.4,282.9 L455.1,282.4 L456.0,282.0 L457.0,281.7 L458.0,281.4 L456.9,280.6 L456.2,279.9 L455.7,279.2 L455.3,278.4 L455.0,277.6 L454.8,276.9 L454.7,276.1 L454.6,275.4 L454.7,274.6 L454.8,273.9 L454.9,273.3 L455.2,272.7 L455.5,272.1 L455.9,271.6 L456.3,271.2 L456.8,270.8 L457.3,270.5 L457.9,270.4 L458.5,270.3 L459.2,270.3 L459.9,270.4 L460.7,270.7 L461.5,271.2 L462.3,271.8 L461.9,270.2 L461.7,268.9 L461.6,267.8 L461.6,266.7 L461.6,265.7 L461.8,264.8 L462.0,263.9 L462.2,263.1 L462.5,262.4 L462.8,261.9 L463.2,261.4 L463.6,261.0 L464.0,260.7 L464.5,260.5 L464.9,260.4 L465.4,260.5 L465.9,260.7 L466.4,261.0 L466.8,261.4 L467.3,262.0 L467.8,262.7 L468.2,263.7 L468.6,264.8 L468.9,266.1 L469.2,264.1 L469.5,262.7 L469.9,261.5 L470.3,260.5 L470.7,259.6 L471.2,258.8 L471.6,258.1 L472.1,257.5 L472.5,257.1 L473.0,256.8 L473.4,256.6 L473.9,256.6 L474.3,256.7 L474.7,256.9 L475.0,257.2 L475.3,257.7 L475.6,258.2 L475.8,258.9 L476.0,259.8 L476.1,260.7 L476.2,261.8 L476.1,263.1 L476.0,264.6 L475.8,266.0 L476.7,264.4 L477.4,263.3 L478.1,262.4 L478.8,261.7 L479.4,261.2 L480.1,260.8 L480.6,260.5 L481.1,260.3 L481.6,260.3 L482.1,260.4 L482.4,260.6 L482.8,260.9 L483.0,261.3 L483.2,261.8 L483.3,262.5 L483.4,263.2 L483.4,264.0 L483.3,264.8 L483.1,265.8 L482.8,266.8 L482.4,267.9 L482.0,269.1 L481.3,270.4 L480.6,271.7 L481.8,270.9 L482.8,270.4 L483.6,270.2 L484.3,270.1 L485.0,270.1 L485.6,270.2 L486.1,270.4 L486.5,270.7 L486.9,271.0 L487.1,271.5 L487.3,272.0 L487.4,272.6 L487.5,273.2 L487.4,273.9 L487.3,274.6 L487.1,275.3 L486.7,276.1 L486.3,276.8 L485.9,277.6 L485.3,278.4 L484.6,279.1 L483.8,279.9 L482.9,280.6 L481.9,281.3 L483.1,281.5 L483.9,281.9 L484.6,282.3 L485.2,282.8 L485.6,283.4 L486.0,283.9 L486.3,284.6 L486.5,285.2 L486.6,285.9 L486.6,286.5 L486.6,287.2 L486.4,287.8 L486.2,288.5 Z" stroke="#222" stroke-width="0.9" fill="#fff" />
<path d="M490.7,258.1 L492.3,259.3 L493.7,260.6 L495.0,262.3 L496.1,264.1 L497.1,266.2 L498.0,268.4 L498.6,270.8 L499.1,273.4 L499.5,276.0 L499.6,278.8 L499.5,281.6 L499.3,284.5 L498.9,287.3 L498.3,290.2 L497.5,292.9 L496.5,295.6 L495.5,298.2 L494.2,300.7 L492.8,303.0 L491.4,305.1 L489.8,307.1 L488.1,308.8 L486.3,310.2 L484.5,311.5 L482.7,312.4 L480.8,313.1 L479.0,313.5 L468.3,305.3 L469.7,304.8 L471.1,304.2 L472.5,303.3 L473.9,302.3 L475.3,301.1 L476.5,299.7 L477.8,298.1 L478.9,296.4 L479.9,294.6 L480.9,292.7 L481.7,290.7 L482.4,288.6 L482.9,286.5 L483.4,284.3 L483.7,282.2 L483.8,280.0 L483.8,277.9 L483.7,275.9 L483.4,273.9 L483.0,272.1 L482.5,270.4 L481.8,268.8 L481.0,267.3 L480.1,266.0 L479.1,264.9 Z" stroke="#222" stroke-width="0.9" fill="#fff" />
<line x1="480.1" y1="266.0" x2="493.7" y2="260.6" stroke="#222" stroke-width="0.8" />
<line x1="481.2" y1="267.6" x2="495.0" y2="262.3" stroke="#222" stroke-width="0.7" />
<line x1="482.9" y1="271.6" x2="497.7" y2="267.7" stroke="#222" stroke-width="0.8" />
<line x1="483.4" y1="273.8" x2="498.5" y2="270.1" stroke="#222" stroke-width="0.7" />
<line x1="483.9" y1="278.8" x2="499.5" y2="277.1" stroke="#222" stroke-width="0.8" />
<line x1="483.8" y1="281.3" x2="499.6" y2="279.9" stroke="#222" stroke-width="0.7" />
<line x1="482.9" y1="286.7" x2="498.8" y2="287.6" stroke="#222" stroke-width="0.8" />
<line x1="482.2" y1="289.2" x2="498.2" y2="290.4" stroke="#222" stroke-width="0.7" />
<line x1="480.1" y1="294.2" x2="495.7" y2="297.7" stroke="#222" stroke-width="0.8" />
<line x1="478.9" y1="296.4" x2="494.5" y2="300.2" stroke="#222" stroke-width="0.7" />
<line x1="475.9" y1="300.4" x2="490.6" y2="306.1" stroke="#222" stroke-width="0.8" />
<line x1="474.3" y1="301.9" x2="488.9" y2="308.0" stroke="#222" stroke-width="0.7" />
<line x1="470.8" y1="304.3" x2="484.2" y2="311.7" stroke="#222" stroke-width="0.8" />
<line x1="469.1" y1="305.0" x2="482.3" y2="312.6" stroke="#222" stroke-width="0.7" />
<ellipse cx="471.8" cy="286.8" rx="9.0" ry="11.5" transform="rotate(15 471.8 286.8)" fill="#fff" stroke="#222" stroke-width="1.5" />
<ellipse cx="377.0" cy="402.5" rx="2.5" ry="3.6" transform="rotate(23 377.0 402.5)" fill="#fff" stroke="#222" stroke-width="1.0" />
<path d="M375.6,405.8 L411.6,420.8 L414.4,414.2 L378.4,399.2 Z" fill="#fff" stroke="none"/>
<path d="M375.6,405.8 L411.6,420.8 M378.4,399.2 L414.4,414.2" stroke="#222" stroke-width="1.0" fill="none"/>
<ellipse cx="413.0" cy="417.5" rx="2.5" ry="3.6" transform="rotate(23 413.0 417.5)" fill="#fff" stroke="#222" stroke-width="1.0" />
<line x1="327.1" y1="459.6" x2="395.8" y2="407.2" stroke="#222" stroke-width="0.8" />
<circle cx="395.8" cy="407.2" r="2.2" fill="#333"/>
<ellipse cx="440.5" cy="444.8" rx="7.1" ry="11.6" transform="rotate(-24.6 440.5 444.8)" fill="#fff" stroke="#222" stroke-width="1.0" />
<path d="M445.3,455.3 L352.0,496.1 L342.4,475.1 L435.7,434.3 Z" fill="#fff" stroke="none"/>
<path d="M445.3,455.3 L352.0,496.1 M435.7,434.3 L342.4,475.1" stroke="#222" stroke-width="1.0" fill="none"/>
<ellipse cx="347.2" cy="485.6" rx="7.1" ry="11.6" transform="rotate(-24.6 347.2 485.6)" fill="#fff" stroke="#222" stroke-width="1.0" />
<ellipse cx="347.9" cy="485.3" rx="6.8" ry="11.1" transform="rotate(-24.6 347.9 485.3)" fill="none" stroke="#222" stroke-width="0.6" />
<ellipse cx="358.5" cy="488.0" rx="1.8" ry="2.6" transform="rotate(20 358.5 488.0)" fill="none" stroke="#222" stroke-width="0.9" />
<line x1="334.0" y1="491.0" x2="350.0" y2="485.0" stroke="#222" stroke-width="1.0" />
<line x1="421.2" y1="501.1" x2="428.0" y2="457.3" stroke="#222" stroke-width="0.8" />
<circle cx="428.0" cy="457.3" r="2.2" fill="#333"/>
<ellipse cx="426.0" cy="353.5" rx="32.9" ry="47.0" transform="rotate(23 426.0 353.5)" fill="#fff" stroke="#222" stroke-width="0.9" />
<ellipse cx="429.0" cy="355.0" rx="32.9" ry="47.0" transform="rotate(23 429.0 355.0)" fill="#fff" stroke="#222" stroke-width="1.0" />
<path d="M432,333 C414,336 405,362 414,384" stroke="#222" stroke-width="0.8" fill="none"/>
<path d="M458.62,369.48 L457.84,371.21 L456.99,372.90 L456.07,374.54 L455.09,376.13 L454.04,377.66 L452.94,379.12 L451.79,380.51 L450.59,381.82 L449.35,383.05 L448.08,384.18 L446.78,385.22 L445.45,386.16 L444.10,387.00 L442.74,387.73 L441.37,388.35 L440.00,388.86 L438.63,389.25 L437.27,389.52 L435.93,389.68 L434.61,389.72 L433.32,389.64 L432.07,389.44 L430.85,389.13 L429.67,388.69 L428.54,388.15 L427.47,387.49 L426.45,386.72 L425.49,385.85 L424.61,384.87 L423.79,383.80 L423.04,382.63 L422.38,381.38 L421.79,380.04 L421.28,378.63 L420.86,377.14 L420.53,375.59 L420.28,373.98 L420.12,372.32 L420.06,370.61 L420.08,368.87 L420.19,367.10 L420.39,365.31 L420.67,363.50 L421.05,361.69 L421.51,359.87 L422.05,358.07 L422.68,356.28 L423.38,354.52 L424.16,352.79 L425.01,351.10 L425.93,349.46 L426.91,347.87 L427.96,346.34 L429.06,344.88 L430.21,343.49 L431.41,342.18 L432.65,340.95 L433.92,339.82 L435.22,338.78 L436.55,337.84 L437.90,337.00 L439.26,336.27 L440.63,335.65 L442.00,335.14 L443.37,334.75 L444.73,334.48 L446.07,334.32 L447.39,334.28 L448.68,334.36 L449.93,334.56 L451.15,334.87 L452.33,335.31 L453.46,335.85 L454.53,336.51 L455.55,337.28 L456.51,338.15 L457.39,339.13 L458.21,340.20 L458.96,341.37 L459.62,342.62 L460.21,343.96 L460.72,345.37 L461.14,346.86 L461.47,348.41 L461.72,350.02 L461.88,351.68 L461.94,353.39 L461.92,355.13 L461.81,356.90 L461.61,358.69 L461.33,360.50 L460.95,362.31 L460.49,364.13 L459.95,365.93 L459.32,367.72 Z" fill="url(#spl)" stroke="#222" stroke-width="1.0" />
<path d="M429.7,388.7 L442.7,394.7 L465.3,341.3 L452.3,335.3 Z" fill="url(#spl)" stroke="none"/>
<path d="M429.7,388.7 L442.7,394.7 M452.3,335.3 L465.3,341.3" stroke="#222" stroke-width="1.0" fill="none"/>
<ellipse cx="454.0" cy="368.0" rx="19.1" ry="29.0" transform="rotate(23 454.0 368.0)" fill="#fff" stroke="#222" stroke-width="1.0" />
<ellipse cx="454.0" cy="368.0" rx="17.8" ry="27.0" transform="rotate(23 454.0 368.0)" fill="#fff" stroke="#222" stroke-width="1.0" />
<path d="M443.5,392.9 L479.5,408.9 L500.5,359.1 L464.5,343.1 Z" fill="#fff" stroke="none"/>
<path d="M443.5,392.9 L479.5,408.9 M464.5,343.1 L500.5,359.1" stroke="#222" stroke-width="1.0" fill="none"/>
<ellipse cx="490.0" cy="384.0" rx="17.8" ry="27.0" transform="rotate(23 490.0 384.0)" fill="#fff" stroke="#222" stroke-width="1.0" />
<line x1="404.4" y1="344.0" x2="423.0" y2="352.3" stroke="#222" stroke-width="1.0" />
<line x1="454.4" y1="211.4" x2="444.0" y2="315.0" stroke="#222" stroke-width="0.8" />
<circle cx="444.0" cy="315.0" r="2.2" fill="#333"/>
<path d="M502.0,313.5 L509.8,308.0 L520.0,307.8 L530.5,316.0 L543.0,321.0 L555.4,317.3 L567.0,318.0 L577.4,324.2 L580.0,335.8 L576.0,345.0 L595.0,378.0 L555.0,468.0 L522.0,474.0 L511.0,479.5 L498.9,471.4 L492.0,466.0 L475.0,466.5 L462.0,467.3 L450.0,464.6 L447.2,452.3 L450.5,438.0 L452.7,418.0 L452.7,398.0 L446.6,388.3 L449.0,375.4 L458.0,367.7 L473.7,354.8 Z" stroke="#222" stroke-width="0.9" fill="#fff" />
<path d="M507.0,315.5 L514.8,310.0 L525.0,309.8 L535.5,318.0 L548.0,323.0 L560.4,319.3 L572.0,320.0 L582.4,326.2 L585.0,337.8 L581.0,347.0 L600.0,380.0 L560.0,470.0 L527.0,476.0 L516.0,481.5 L503.9,473.4 L497.0,468.0 L480.0,468.5 L467.0,469.3 L455.0,466.6 L452.2,454.3 L455.5,440.0 L457.7,420.0 L457.7,400.0 L451.6,390.3 L454.0,377.4 L463.0,369.7 L478.7,356.8 Z" stroke="#222" stroke-width="1.0" fill="#fff" />
<ellipse cx="521.3" cy="324.5" rx="4.7" ry="6.5" transform="rotate(23 521.3 324.5)" fill="none" stroke="#222" stroke-width="0.9" />
<ellipse cx="573.0" cy="336.7" rx="4.7" ry="6.5" transform="rotate(23 573.0 336.7)" fill="none" stroke="#222" stroke-width="0.9" />
<ellipse cx="469.0" cy="384.0" rx="4.7" ry="6.5" transform="rotate(23 469.0 384.0)" fill="none" stroke="#222" stroke-width="0.9" />
<ellipse cx="469.7" cy="455.0" rx="4.7" ry="6.5" transform="rotate(23 469.7 455.0)" fill="none" stroke="#222" stroke-width="0.9" />
<ellipse cx="521.5" cy="471.0" rx="4.7" ry="6.5" transform="rotate(23 521.5 471.0)" fill="none" stroke="#222" stroke-width="0.9" />
<path d="M486,389 C483,396 487,402 495,403.5 L515,405.5 C519,396 520,380 517,370 C514,362 509,359 504,360 C496,363 489,376 486,389 Z" stroke="#222" stroke-width="1.0" fill="#fff"/>
<path d="M490,389 C488,395 491,399 496,400 L512,402 C515,394 516,381 513,372 C511,366 507,364 503,365 C497,368 492,379 490,389 Z" stroke="#222" stroke-width="0.9" fill="none"/>
<path d="M501.5,370 C508,372 513,378 512.4,386 C512,392 509,397 506,399.2" stroke="#222" stroke-width="1.2" fill="none"/>
<path d="M492.5,387 C496,368 515,354 545,346 M485.8,387 C490,364 512,347 540,339.4" stroke="#222" stroke-width="0.9" fill="none"/>
<ellipse cx="485.5" cy="423.0" rx="8.8" ry="12.5" transform="rotate(23 485.5 423.0)" fill="none" stroke="#222" stroke-width="0.9" />
<ellipse cx="481.0" cy="420.0" rx="3.2" ry="4.0" transform="rotate(23 481.0 420.0)" fill="none" stroke="#222" stroke-width="0.8" />
<path d="M487,443.5 L511.5,454 L511,457.5 L488,447 C486,446.5 486,444 487,443.5 Z" stroke="#222" stroke-width="0.8" fill="none"/>
<path d="M464.5,414.0 L472.0,411.0 L474.0,422.0 L466.0,427.0" stroke="#222" stroke-width="0.8" fill="none" />
<line x1="472.0" y1="411.0" x2="468.0" y2="412.5" stroke="#222" stroke-width="0.8" />
<line x1="467.0" y1="373.4" x2="494.3" y2="388.3" stroke="#222" stroke-width="1.0" />
<ellipse cx="558.0" cy="413.0" rx="45.2" ry="64.6" transform="rotate(23 558.0 413.0)" fill="#fff" stroke="#222" stroke-width="1.0" />
<path d="M532.8,472.5 L546.3,478.5 L596.7,359.5 L583.2,353.5 Z" fill="#fff" stroke="none"/>
<path d="M532.8,472.5 L546.3,478.5 M583.2,353.5 L596.7,359.5" stroke="#222" stroke-width="1.0" fill="none"/>
<ellipse cx="571.5" cy="419.0" rx="45.2" ry="64.6" transform="rotate(23 571.5 419.0)" fill="#fff" stroke="#222" stroke-width="1.0" />
<ellipse cx="571.5" cy="419.0" rx="42.0" ry="60.0" transform="rotate(23 571.5 419.0)" fill="none" stroke="#222" stroke-width="0.8" />
<ellipse cx="556.7" cy="381.0" rx="3.2" ry="4.2" transform="rotate(23 556.7 381.0)" fill="none" stroke="#222" stroke-width="0.9" />
<ellipse cx="589.0" cy="366.5" rx="3.2" ry="4.2" transform="rotate(23 589.0 366.5)" fill="none" stroke="#222" stroke-width="0.9" />
<ellipse cx="613.8" cy="383.0" rx="3.2" ry="4.2" transform="rotate(23 613.8 383.0)" fill="none" stroke="#222" stroke-width="0.9" />
<ellipse cx="534.7" cy="418.7" rx="3.2" ry="4.2" transform="rotate(23 534.7 418.7)" fill="none" stroke="#222" stroke-width="0.9" />
<ellipse cx="535.5" cy="458.0" rx="3.2" ry="4.2" transform="rotate(23 535.5 458.0)" fill="none" stroke="#222" stroke-width="0.9" />
<ellipse cx="558.0" cy="474.0" rx="3.2" ry="4.2" transform="rotate(23 558.0 474.0)" fill="none" stroke="#222" stroke-width="0.9" />
<ellipse cx="590.0" cy="459.5" rx="3.2" ry="4.2" transform="rotate(23 590.0 459.5)" fill="none" stroke="#222" stroke-width="0.9" />
<ellipse cx="613.0" cy="420.0" rx="3.2" ry="4.2" transform="rotate(23 613.0 420.0)" fill="none" stroke="#222" stroke-width="0.9" />
<path d="M606.64,434.58 L605.40,437.32 L604.04,440.00 L602.56,442.60 L600.98,445.11 L599.29,447.52 L597.51,449.83 L595.63,452.01 L593.68,454.07 L591.66,455.99 L589.57,457.76 L587.43,459.38 L585.25,460.84 L583.03,462.13 L580.78,463.25 L578.52,464.20 L576.25,464.96 L573.99,465.54 L571.74,465.93 L569.51,466.14 L567.31,466.16 L565.15,465.98 L563.05,465.62 L561.00,465.08 L559.03,464.34 L557.13,463.43 L555.31,462.34 L553.59,461.08 L551.97,459.64 L550.45,458.05 L549.05,456.31 L547.77,454.41 L546.61,452.38 L545.59,450.22 L544.70,447.93 L543.94,445.54 L543.33,443.04 L542.86,440.46 L542.54,437.80 L542.37,435.06 L542.34,432.28 L542.47,429.44 L542.74,426.58 L543.16,423.70 L543.72,420.81 L544.42,417.92 L545.27,415.05 L546.25,412.21 L547.36,409.42 L548.60,406.68 L549.96,404.00 L551.44,401.40 L553.02,398.89 L554.71,396.48 L556.49,394.17 L558.37,391.99 L560.32,389.93 L562.34,388.01 L564.43,386.24 L566.57,384.62 L568.75,383.16 L570.97,381.87 L573.22,380.75 L575.48,379.80 L577.75,379.04 L580.01,378.46 L582.26,378.07 L584.49,377.86 L586.69,377.84 L588.85,378.02 L590.95,378.38 L593.00,378.92 L594.97,379.66 L596.87,380.57 L598.69,381.66 L600.41,382.92 L602.03,384.36 L603.55,385.95 L604.95,387.69 L606.23,389.59 L607.39,391.62 L608.41,393.78 L609.30,396.07 L610.06,398.46 L610.67,400.96 L611.14,403.54 L611.46,406.20 L611.63,408.94 L611.66,411.72 L611.53,414.56 L611.26,417.42 L610.84,420.30 L610.28,423.19 L609.58,426.08 L608.73,428.95 L607.75,431.79 Z" fill="url(#spl3)" stroke="#222" stroke-width="1.1" />
<clipPath id="h2"><ellipse cx="577" cy="422" rx="32.2" ry="46" transform="rotate(23 577 422)"/></clipPath>
<g clip-path="url(#h2)">
<ellipse cx="553.0" cy="414.0" rx="32.2" ry="46.0" transform="rotate(23 553.0 414.0)" fill="#fff" stroke="#222" stroke-width="0.9" />
<path d="M533,405 C545,402 555,398 562,390 C568,384 572,388 576,398 L578,420 M546,447 C556,430 570,418 582,414 M550,455 C560,440 572,430 584,428" stroke="#222" stroke-width="0.8" fill="none"/>
<ellipse cx="570.0" cy="392.0" rx="3.6" ry="4.0" transform="rotate(23 570.0 392.0)" fill="none" stroke="#222" stroke-width="0.8" />
<ellipse cx="571.0" cy="412.0" rx="3.1" ry="3.5" transform="rotate(23 571.0 412.0)" fill="none" stroke="#222" stroke-width="0.8" />
</g>
<path d="M513.2,427.7 L535.7,430.8 L533.7,447.0 L526.5,452.0 L516.3,446.0 Z" stroke="#222" stroke-width="0.9" fill="#fff" />
<line x1="533.8" y1="404.6" x2="558.0" y2="414.0" stroke="#222" stroke-width="1.0" />
<line x1="607.2" y1="281.0" x2="556.0" y2="330.0" stroke="#222" stroke-width="0.8" />
<circle cx="556.0" cy="330.0" r="2.2" fill="#333"/>
<ellipse cx="637.0" cy="342.5" rx="9.8" ry="14.0" transform="rotate(23 637.0 342.5)" fill="#fff" stroke="#222" stroke-width="0.9" />
<ellipse cx="640.0" cy="343.5" rx="9.8" ry="14.0" transform="rotate(23 640.0 343.5)" fill="#fff" stroke="#222" stroke-width="1.0" />
<ellipse cx="640.0" cy="343.5" rx="5.2" ry="7.5" transform="rotate(23 640.0 343.5)" fill="none" stroke="#222" stroke-width="0.9" />
<line x1="675.0" y1="311.2" x2="647.0" y2="340.8" stroke="#222" stroke-width="0.8" />
<circle cx="647.0" cy="340.8" r="2.2" fill="#333"/>
<line x1="650.0" y1="347.8" x2="657.0" y2="351.4" stroke="#222" stroke-width="0.8" />
<ellipse cx="659.0" cy="353.0" rx="6.1" ry="9.0" transform="rotate(23 659.0 353.0)" fill="#fff" stroke="#222" stroke-width="1.0" />
<path d="M655.5,361.3 L668.5,366.8 L675.5,350.2 L662.5,344.7 Z" fill="#fff" stroke="none"/>
<path d="M655.5,361.3 L668.5,366.8 M662.5,344.7 L675.5,350.2" stroke="#222" stroke-width="1.0" fill="none"/>
<ellipse cx="672.0" cy="358.5" rx="6.1" ry="9.0" transform="rotate(23 672.0 358.5)" fill="#fff" stroke="#222" stroke-width="1.0" />
<path d="M660.8,360.6 L660.9,359.9 L660.9,359.2 L661.0,358.5 L661.1,357.7 L661.2,357.0 L661.4,356.3 L661.6,355.6 L661.9,354.8 L662.1,354.1 L662.4,353.4 L662.7,352.7 L663.0,352.1 L663.4,351.4 L663.8,350.7 L664.2,350.1 L664.6,349.5 L665.1,348.9 L665.5,348.3 L666.0,347.8 L666.5,347.3 L667.0,346.8 L667.6,346.4 L668.1,345.9 L668.6,345.5 L669.2,345.2 L669.8,344.9 L670.4,344.6 L670.9,344.3 L671.5,344.1 L672.1,343.9 L672.7,343.8 L673.3,343.6 L673.9,343.6 L674.4,343.6 L675.0,343.6 L675.5,343.6 L676.1,343.7 L676.6,343.8 L677.1,344.0 L677.7,344.1 L692.7,350.6 L693.2,350.9 L693.6,351.1 L694.1,351.5 L694.5,351.8 L695.0,352.2 L695.4,352.6 L695.7,353.0 L696.1,353.5 L696.4,354.0 L696.7,354.5 L697.0,355.0 L697.2,355.6 L697.5,356.2 L697.6,356.8 L697.8,357.4 L697.9,358.1 L698.0,358.8 L698.1,359.4 L698.1,360.1 L698.2,360.9 L698.1,361.6 L698.1,362.3 L698.0,363.0 L697.9,363.8 L697.8,364.5 L697.6,365.2 L697.4,365.9 L697.1,366.7 L696.9,367.4 L696.6,368.1 L696.3,368.8 L696.0,369.4 L695.6,370.1 L695.2,370.8 L694.8,371.4 L694.4,372.0 L693.9,372.6 L693.5,373.2 L693.0,373.7 L692.5,374.2 L692.0,374.7 L691.4,375.1 L690.9,375.6 L690.4,376.0 L689.8,376.3 L689.2,376.6 L688.6,376.9 L688.1,377.2 L687.5,377.4 L686.9,377.6 L686.3,377.7 L685.7,377.9 L685.1,377.9 L684.6,377.9 L684.0,377.9 L683.5,377.9 L682.9,377.8 L682.4,377.7 L681.9,377.5 L681.3,377.4 L666.3,370.9 L665.8,370.6 L665.4,370.4 L664.9,370.0 L664.5,369.7 L664.0,369.3 L663.6,368.9 L663.3,368.5 L662.9,368.0 L662.6,367.5 L662.3,367.0 L662.0,366.5 L661.8,365.9 L661.5,365.3 L661.4,364.7 L661.2,364.1 L661.1,363.4 L661.0,362.7 L660.9,362.1 L660.9,361.4 Z" fill="#fff" stroke="#222" stroke-width="1.0"/>
<ellipse cx="675.5" cy="359.0" rx="10.4" ry="14.5" transform="rotate(23 675.5 359.0)" fill="none" stroke="#222" stroke-width="0.7" />
<ellipse cx="687.0" cy="364.0" rx="10.4" ry="14.5" transform="rotate(23 687.0 364.0)" fill="#fff" stroke="#222" stroke-width="1.0" />
<path d="M685.5,360.0 L690.0,359.0 L693.0,364.0 L692.0,370.0 L687.0,371.0 L685.0,366.0 Z" stroke="#222" stroke-width="0.8" fill="none" />
<line x1="716.5" y1="329.1" x2="684.2" y2="360.2" stroke="#222" stroke-width="0.8" />
<circle cx="684.2" cy="360.2" r="2.2" fill="#333"/>
<path d="M662.85,458.32 L661.66,460.98 L660.35,463.57 L658.93,466.09 L657.41,468.52 L655.79,470.86 L654.08,473.10 L652.29,475.22 L650.43,477.22 L648.50,479.09 L646.51,480.82 L644.48,482.40 L642.40,483.83 L640.29,485.09 L638.16,486.20 L636.02,487.13 L633.87,487.89 L631.73,488.47 L629.60,488.87 L627.49,489.09 L625.41,489.13 L623.38,488.98 L621.40,488.66 L619.47,488.15 L617.61,487.46 L615.83,486.60 L614.13,485.57 L612.51,484.37 L611.00,483.01 L609.58,481.49 L608.28,479.82 L607.09,478.01 L606.01,476.06 L605.07,473.99 L604.25,471.80 L603.56,469.50 L603.01,467.10 L602.59,464.62 L602.32,462.06 L602.18,459.43 L602.18,456.74 L602.33,454.01 L602.61,451.25 L603.03,448.47 L603.59,445.68 L604.29,442.90 L605.11,440.12 L606.07,437.38 L607.15,434.68 L608.34,432.02 L609.65,429.43 L611.07,426.91 L612.59,424.48 L614.21,422.14 L615.92,419.90 L617.71,417.78 L619.57,415.78 L621.50,413.91 L623.49,412.18 L625.52,410.60 L627.60,409.17 L629.71,407.91 L631.84,406.80 L633.98,405.87 L636.13,405.11 L638.27,404.53 L640.40,404.13 L642.51,403.91 L644.59,403.87 L646.62,404.02 L648.60,404.34 L650.53,404.85 L652.39,405.54 L654.17,406.40 L655.87,407.43 L657.49,408.63 L659.00,409.99 L660.42,411.51 L661.72,413.18 L662.91,414.99 L663.99,416.94 L664.93,419.01 L665.75,421.20 L666.44,423.50 L666.99,425.90 L667.41,428.38 L667.68,430.94 L667.82,433.57 L667.82,436.26 L667.67,438.99 L667.39,441.75 L666.97,444.53 L666.41,447.32 L665.71,450.10 L664.89,452.88 L663.93,455.62 Z" fill="url(#spl2)" stroke="#222" stroke-width="1.0" />
<path d="M617.6,487.5 L626.1,491.0 L660.9,409.0 L652.4,405.5 Z" fill="url(#spl2)" stroke="none"/>
<path d="M617.6,487.5 L626.1,491.0 M652.4,405.5 L660.9,409.0" stroke="#222" stroke-width="1.0" fill="none"/>
<ellipse cx="643.5" cy="450.0" rx="30.3" ry="44.5" transform="rotate(23 643.5 450.0)" fill="#fff" stroke="#222" stroke-width="1.0" />
<ellipse cx="643.5" cy="450.0" rx="29.7" ry="43.7" transform="rotate(23 643.5 450.0)" fill="#fff" stroke="#222" stroke-width="1.0" />
<path d="M655.4,408.3 L658.3,407.3 L660.0,409.5 L662.9,409.1 L664.2,411.8 L666.9,411.9 L667.9,415.0 L670.4,415.7 L670.9,419.0 L673.2,420.3 L673.2,423.9 L675.3,425.7 L674.8,429.4 L676.5,431.7 L675.6,435.4 L676.9,438.2 L675.6,441.8 L676.5,444.9 L674.8,448.4 L675.2,451.8 L673.2,455.1 L673.2,458.7 L670.9,461.6 L670.4,465.3 L667.8,467.8 L666.9,471.6 L664.1,473.6 L662.8,477.2 L660.0,478.8 L658.2,482.3 L655.4,483.2 L653.3,486.4 L650.5,486.9 L648.1,489.7 L645.4,489.5 L642.8,492.0 L640.3,491.2 L637.5,493.2 L635.2,491.9 L632.4,493.3 L630.4,491.4 L627.5,492.3 L625.9,490.0 L623.1,490.3 L621.8,487.5" stroke="#222" stroke-width="0.7" fill="none" />
<path d="M659.40,457.38 L658.67,458.99 L657.87,460.57 L657.01,462.09 L656.07,463.57 L655.08,464.98 L654.04,466.33 L652.94,467.62 L651.79,468.82 L650.60,469.95 L649.38,470.99 L648.12,471.94 L646.84,472.80 L645.54,473.56 L644.22,474.21 L642.89,474.77 L641.56,475.22 L640.23,475.56 L638.91,475.79 L637.60,475.91 L636.31,475.92 L635.05,475.82 L633.81,475.60 L632.61,475.28 L631.45,474.85 L630.33,474.32 L629.27,473.68 L628.26,472.94 L627.31,472.10 L626.42,471.16 L625.60,470.14 L624.84,469.02 L624.16,467.83 L623.56,466.56 L623.04,465.22 L622.60,463.82 L622.24,462.35 L621.96,460.83 L621.78,459.27 L621.67,457.67 L621.66,456.03 L621.73,454.37 L621.89,452.69 L622.13,451.00 L622.46,449.30 L622.88,447.61 L623.37,445.92 L623.95,444.26 L624.60,442.62 L625.33,441.01 L626.13,439.43 L626.99,437.91 L627.93,436.43 L628.92,435.02 L629.96,433.67 L631.06,432.38 L632.21,431.18 L633.40,430.05 L634.62,429.01 L635.88,428.06 L637.16,427.20 L638.46,426.44 L639.78,425.79 L641.11,425.23 L642.44,424.78 L643.77,424.44 L645.09,424.21 L646.40,424.09 L647.69,424.08 L648.95,424.18 L650.19,424.40 L651.39,424.72 L652.55,425.15 L653.67,425.68 L654.73,426.32 L655.74,427.06 L656.69,427.90 L657.58,428.84 L658.40,429.86 L659.16,430.98 L659.84,432.17 L660.44,433.44 L660.96,434.78 L661.40,436.18 L661.76,437.65 L662.04,439.17 L662.22,440.73 L662.33,442.33 L662.34,443.97 L662.27,445.63 L662.11,447.31 L661.87,449.00 L661.54,450.70 L661.12,452.39 L660.63,454.08 L660.05,455.74 Z" fill="url(#spl2)" stroke="#222" stroke-width="1.0" />
<clipPath id="g9"><ellipse cx="642" cy="450" rx="18.9" ry="27" transform="rotate(23 642 450)"/></clipPath>
<g clip-path="url(#g9)">
<ellipse cx="634.0" cy="446.5" rx="18.9" ry="27.0" transform="rotate(23 634.0 446.5)" fill="#fff" stroke="#222" stroke-width="0.9" />
</g>
<ellipse cx="656.3" cy="416.4" rx="2.8" ry="3.5" transform="rotate(23 656.3 416.4)" fill="none" stroke="#222" stroke-width="0.9" />
<ellipse cx="667.0" cy="456.3" rx="2.8" ry="3.5" transform="rotate(23 667.0 456.3)" fill="none" stroke="#222" stroke-width="0.9" />
<ellipse cx="629.2" cy="485.6" rx="2.8" ry="3.5" transform="rotate(23 629.2 485.6)" fill="none" stroke="#222" stroke-width="0.9" />
<ellipse cx="617.8" cy="445.6" rx="2.8" ry="3.5" transform="rotate(23 617.8 445.6)" fill="none" stroke="#222" stroke-width="0.9" />
<ellipse cx="635.0" cy="452.0" rx="2.8" ry="4.0" transform="rotate(23 635.0 452.0)" fill="#fff" stroke="#222" stroke-width="1.0" />
<path d="M633.4,455.7 L661.9,470.0 L665.1,462.6 L636.6,448.3 Z" fill="#fff" stroke="none"/>
<path d="M633.4,455.7 L661.9,470.0 M636.6,448.3 L665.1,462.6" stroke="#222" stroke-width="1.0" fill="none"/>
<ellipse cx="663.5" cy="466.3" rx="2.8" ry="4.0" transform="rotate(23 663.5 466.3)" fill="#fff" stroke="#222" stroke-width="1.0" />
<line x1="600.0" y1="437.0" x2="690.0" y2="476.0" stroke="#222" stroke-width="0.8" />
<line x1="528.6" y1="549.4" x2="604.0" y2="468.3" stroke="#222" stroke-width="0.8" />
<circle cx="604.0" cy="468.3" r="2.2" fill="#333"/>
<line x1="573.3" y1="569.3" x2="636.4" y2="452.8" stroke="#222" stroke-width="0.8" />
<circle cx="636.4" cy="452.8" r="2.2" fill="#333"/>
<ellipse cx="715.0" cy="484.0" rx="48.2" ry="65.6" transform="rotate(23 715.0 484.0)" fill="#fff" stroke="#222" stroke-width="0.9" />
<ellipse cx="719.0" cy="486.0" rx="48.2" ry="65.6" transform="rotate(23 719.0 486.0)" fill="#fff" stroke="#222" stroke-width="1.0" />
<ellipse cx="719.5" cy="486.5" rx="45.6" ry="62.0" transform="rotate(23 719.5 486.5)" fill="none" stroke="#222" stroke-width="0.7" />
<ellipse cx="727.0" cy="434.5" rx="4.9" ry="6.5" transform="rotate(23 727.0 434.5)" fill="none" stroke="#222" stroke-width="0.9" />
<ellipse cx="728.5" cy="435.5" rx="3.4" ry="4.5" transform="rotate(23 728.5 435.5)" fill="none" stroke="#222" stroke-width="0.7" />
<ellipse cx="754.8" cy="441.6" rx="4.9" ry="6.5" transform="rotate(23 754.8 441.6)" fill="none" stroke="#222" stroke-width="0.9" />
<ellipse cx="756.3" cy="442.6" rx="3.4" ry="4.5" transform="rotate(23 756.3 442.6)" fill="none" stroke="#222" stroke-width="0.7" />
<ellipse cx="697.7" cy="459.0" rx="4.9" ry="6.5" transform="rotate(23 697.7 459.0)" fill="none" stroke="#222" stroke-width="0.9" />
<ellipse cx="699.2" cy="460.0" rx="3.4" ry="4.5" transform="rotate(23 699.2 460.0)" fill="none" stroke="#222" stroke-width="0.7" />
<ellipse cx="680.4" cy="499.7" rx="4.9" ry="6.5" transform="rotate(23 680.4 499.7)" fill="none" stroke="#222" stroke-width="0.9" />
<ellipse cx="681.9" cy="500.7" rx="3.4" ry="4.5" transform="rotate(23 681.9 500.7)" fill="none" stroke="#222" stroke-width="0.7" />
<ellipse cx="688.5" cy="531.3" rx="4.9" ry="6.5" transform="rotate(23 688.5 531.3)" fill="none" stroke="#222" stroke-width="0.9" />
<ellipse cx="690.0" cy="532.3" rx="3.4" ry="4.5" transform="rotate(23 690.0 532.3)" fill="none" stroke="#222" stroke-width="0.7" />
<ellipse cx="717.0" cy="539.4" rx="4.9" ry="6.5" transform="rotate(23 717.0 539.4)" fill="none" stroke="#222" stroke-width="0.9" />
<ellipse cx="718.5" cy="540.4" rx="3.4" ry="4.5" transform="rotate(23 718.5 540.4)" fill="none" stroke="#222" stroke-width="0.7" />
<ellipse cx="736.4" cy="452.8" rx="2.6" ry="3.5" transform="rotate(23 736.4 452.8)" fill="none" stroke="#222" stroke-width="0.8" />
<ellipse cx="709.0" cy="522.0" rx="2.6" ry="3.5" transform="rotate(23 709.0 522.0)" fill="none" stroke="#222" stroke-width="0.8" />
<ellipse cx="697.7" cy="482.3" rx="2.6" ry="3.5" transform="rotate(23 697.7 482.3)" fill="none" stroke="#222" stroke-width="0.8" />
<ellipse cx="721.0" cy="489.0" rx="21.0" ry="30.0" transform="rotate(23 721.0 489.0)" fill="#fff" stroke="#222" stroke-width="1.0" />
<path d="M709.3,516.6 L738.3,527.6 L761.7,472.4 L732.7,461.4 Z" fill="#fff" stroke="none"/>
<path d="M709.3,516.6 L738.3,527.6 M732.7,461.4 L761.7,472.4" stroke="#222" stroke-width="1.0" fill="none"/>
<ellipse cx="750.0" cy="500.0" rx="21.0" ry="30.0" transform="rotate(23 750.0 500.0)" fill="#fff" stroke="#222" stroke-width="1.0" />
<ellipse cx="748.0" cy="499.0" rx="22.4" ry="32.0" transform="rotate(23 748.0 499.0)" fill="#fff" stroke="#222" stroke-width="1.0" />
<path d="M735.5,528.5 L745.5,533.5 L770.5,474.5 L760.5,469.5 Z" fill="#fff" stroke="none"/>
<path d="M735.5,528.5 L745.5,533.5 M760.5,469.5 L770.5,474.5" stroke="#222" stroke-width="1.0" fill="none"/>
<ellipse cx="758.0" cy="504.0" rx="22.4" ry="32.0" transform="rotate(23 758.0 504.0)" fill="#fff" stroke="#222" stroke-width="1.0" />
<ellipse cx="760.0" cy="504.0" rx="17.5" ry="25.0" transform="rotate(23 760.0 504.0)" fill="none" stroke="#222" stroke-width="1.0" />
<ellipse cx="761.0" cy="504.5" rx="15.7" ry="22.5" transform="rotate(23 761.0 504.5)" fill="none" stroke="#222" stroke-width="0.8" />
<line x1="722.0" y1="495.0" x2="770.0" y2="517.0" stroke="#222" stroke-width="1.0" />
<line x1="660.0" y1="466.0" x2="690.0" y2="479.0" stroke="#222" stroke-width="1.0" />
<line x1="810.4" y1="372.7" x2="747.0" y2="437.3" stroke="#222" stroke-width="0.8" />
<circle cx="747.0" cy="437.3" r="2.2" fill="#333"/>
<line x1="757.0" y1="445.0" x2="778.0" y2="452.0" stroke="#222" stroke-width="0.8" />
<ellipse cx="780.0" cy="451.5" rx="3.8" ry="5.5" transform="rotate(23 780.0 451.5)" fill="#fff" stroke="#222" stroke-width="1.0" />
<path d="M777.9,456.6 L797.9,463.6 L802.1,453.4 L782.1,446.4 Z" fill="#fff" stroke="none"/>
<path d="M777.9,456.6 L797.9,463.6 M782.1,446.4 L802.1,453.4" stroke="#222" stroke-width="1.0" fill="none"/>
<ellipse cx="800.0" cy="458.5" rx="3.8" ry="5.5" transform="rotate(23 800.0 458.5)" fill="#fff" stroke="#222" stroke-width="1.0" />
<ellipse cx="799.0" cy="458.5" rx="7.6" ry="9.5" transform="rotate(23 799.0 458.5)" fill="#fff" stroke="#222" stroke-width="1.0" />
<path d="M795.3,467.2 L804.3,472.7 L811.7,455.3 L802.7,449.8 Z" fill="#fff" stroke="none"/>
<path d="M795.3,467.2 L804.3,472.7 M802.7,449.8 L811.7,455.3" stroke="#222" stroke-width="1.0" fill="none"/>
<ellipse cx="808.0" cy="464.0" rx="7.6" ry="9.5" transform="rotate(23 808.0 464.0)" fill="#fff" stroke="#222" stroke-width="1.0" />
<ellipse cx="809.0" cy="464.5" rx="2.4" ry="3.0" transform="rotate(23 809.0 464.5)" fill="none" stroke="#222" stroke-width="0.8" />
<line x1="855.1" y1="391.8" x2="795.6" y2="452.5" stroke="#222" stroke-width="0.8" />
<circle cx="795.6" cy="452.5" r="2.2" fill="#333"/>
<ellipse cx="805.0" cy="524.0" rx="30.6" ry="45.0" transform="rotate(23 805.0 524.0)" fill="#fff" stroke="#222" stroke-width="1.0" />
<ellipse cx="808.9" cy="526.0" rx="30.6" ry="45.0" transform="rotate(23 808.9 526.0)" fill="#fff" stroke="#222" stroke-width="0.9" />
<ellipse cx="810.9" cy="526.9" rx="30.6" ry="45.0" transform="rotate(23 810.9 526.9)" fill="#fff" stroke="#222" stroke-width="0.9" />
<ellipse cx="813.7" cy="528.3" rx="30.6" ry="45.0" transform="rotate(23 813.7 528.3)" fill="#fff" stroke="#222" stroke-width="0.9" />
<ellipse cx="815.6" cy="529.3" rx="30.6" ry="45.0" transform="rotate(23 815.6 529.3)" fill="#fff" stroke="#222" stroke-width="0.9" />
<ellipse cx="817.0" cy="530.0" rx="30.6" ry="45.0" transform="rotate(23 817.0 530.0)" fill="#fff" stroke="#222" stroke-width="1.0" />
<path d="M799.4,571.4 L801.4,572.4 L836.6,489.6 L834.6,488.6 Z" fill="#fff" stroke="none"/>
<path d="M799.4,571.4 L801.4,572.4 M834.6,488.6 L836.6,489.6" stroke="#222" stroke-width="1.0" fill="none"/>
<ellipse cx="819.0" cy="531.0" rx="30.6" ry="45.0" transform="rotate(23 819.0 531.0)" fill="#fff" stroke="#222" stroke-width="1.0" />
<ellipse cx="819.0" cy="531.0" rx="28.9" ry="42.5" transform="rotate(23 819.0 531.0)" fill="none" stroke="#222" stroke-width="0.7" />
<ellipse cx="821.0" cy="532.0" rx="21.8" ry="32.0" transform="rotate(23 821.0 532.0)" fill="#fff" stroke="#222" stroke-width="1.0" />
<clipPath id="r8"><ellipse cx="821" cy="532" rx="21.8" ry="32" transform="rotate(23 821 532)"/></clipPath>
<g clip-path="url(#r8)">
<ellipse cx="807.0" cy="525.0" rx="21.8" ry="32.0" transform="rotate(23 807.0 525.0)" fill="none" stroke="#222" stroke-width="0.8" />
</g>
<ellipse cx="834.2" cy="496.9" rx="2.9" ry="3.6" transform="rotate(23 834.2 496.9)" fill="none" stroke="#222" stroke-width="0.8" />
<ellipse cx="844.7" cy="536.8" rx="2.9" ry="3.6" transform="rotate(23 844.7 536.8)" fill="none" stroke="#222" stroke-width="0.8" />
<ellipse cx="807.3" cy="567.8" rx="2.9" ry="3.6" transform="rotate(23 807.3 567.8)" fill="none" stroke="#222" stroke-width="0.8" />
<ellipse cx="795.0" cy="527.9" rx="2.9" ry="3.6" transform="rotate(23 795.0 527.9)" fill="none" stroke="#222" stroke-width="0.8" />
<ellipse cx="786.0" cy="521.0" rx="2.2" ry="2.8" transform="rotate(23 786.0 521.0)" fill="#fff" stroke="#222" stroke-width="1.0" />
<path d="M784.9,523.6 L825.9,542.6 L828.1,537.4 L787.1,518.4 Z" fill="#fff" stroke="none"/>
<path d="M784.9,523.6 L825.9,542.6 M787.1,518.4 L828.1,537.4" stroke="#222" stroke-width="1.0" fill="none"/>
<ellipse cx="827.0" cy="540.0" rx="2.2" ry="2.8" transform="rotate(23 827.0 540.0)" fill="#fff" stroke="#222" stroke-width="1.0" />
<ellipse cx="827.0" cy="540.0" rx="1.2" ry="1.5" transform="rotate(23 827.0 540.0)" fill="none" stroke="#222" stroke-width="0.7" />
<line x1="772.0" y1="513.0" x2="786.0" y2="520.0" stroke="#222" stroke-width="0.8" />
<line x1="916.5" y1="421.8" x2="844.0" y2="498.5" stroke="#222" stroke-width="0.8" />
<circle cx="844.0" cy="498.5" r="2.2" fill="#333"/>
<line x1="763.0" y1="654.1" x2="827.0" y2="542.0" stroke="#222" stroke-width="0.8" />
<circle cx="827.0" cy="542.0" r="2.2" fill="#333"/>
<path d="M846.5,572.5 L846.6,569.9 L846.8,567.3 L847.0,564.7 L847.4,562.1 L847.9,559.5 L848.5,556.8 L849.1,554.2 L849.9,551.5 L850.8,548.9 L851.7,546.3 L852.8,543.8 L853.9,541.2 L855.1,538.7 L856.4,536.3 L857.8,533.9 L859.2,531.6 L860.7,529.3 L862.3,527.1 L863.9,525.0 L865.6,523.0 L867.3,521.1 L869.1,519.3 L870.9,517.6 L872.8,516.0 L874.6,514.5 L876.6,513.1 L878.5,511.9 L880.4,510.7 L882.4,509.7 L884.4,508.9 L886.3,508.1 L888.3,507.5 L890.2,507.0 L892.1,506.7 L894.0,506.5 L895.9,506.4 L897.8,506.5 L899.6,506.7 L901.3,507.1 L903.0,507.6 L904.7,508.2 L923.7,517.2 L925.3,518.0 L926.9,518.9 L928.3,519.9 L929.8,521.0 L931.1,522.3 L932.3,523.7 L933.5,525.2 L934.6,526.8 L935.6,528.5 L936.5,530.4 L937.4,532.3 L938.1,534.3 L938.7,536.4 L939.3,538.6 L939.7,540.9 L940.1,543.2 L940.3,545.6 L940.4,548.0 L940.5,550.5 L940.4,553.1 L940.2,555.7 L940.0,558.3 L939.6,560.9 L939.1,563.5 L938.5,566.2 L937.9,568.8 L937.1,571.5 L936.2,574.1 L935.3,576.7 L934.2,579.2 L933.1,581.8 L931.9,584.3 L930.6,586.7 L929.2,589.1 L927.8,591.4 L926.3,593.7 L924.7,595.9 L923.1,598.0 L921.4,600.0 L919.7,601.9 L917.9,603.7 L916.1,605.4 L914.2,607.0 L912.4,608.5 L910.4,609.9 L908.5,611.1 L906.6,612.3 L904.6,613.3 L902.6,614.1 L900.7,614.9 L898.7,615.5 L896.8,616.0 L894.9,616.3 L893.0,616.5 L891.1,616.5 L889.2,616.5 L887.4,616.3 L885.7,615.9 L884.0,615.4 L882.3,614.8 L863.3,605.8 L861.7,605.0 L860.1,604.1 L858.7,603.1 L857.2,602.0 L855.9,600.7 L854.7,599.3 L853.5,597.8 L852.4,596.2 L851.4,594.5 L850.5,592.6 L849.6,590.7 L848.9,588.7 L848.3,586.6 L847.7,584.4 L847.3,582.1 L846.9,579.8 L846.7,577.4 L846.6,575.0 Z" fill="#fff" stroke="#222" stroke-width="1.0"/>
<ellipse cx="902.0" cy="567.0" rx="29.4" ry="46.0" transform="rotate(23 902.0 567.0)" fill="none" stroke="#222" stroke-width="1.0" />
<ellipse cx="902.0" cy="567.0" rx="27.2" ry="42.5" transform="rotate(23 902.0 567.0)" fill="none" stroke="#222" stroke-width="0.8" />
<line x1="925.0" y1="586.7" x2="923.2" y2="585.2" stroke="#222" stroke-width="0.8" />
<line x1="907.1" y1="606.0" x2="906.7" y2="603.0" stroke="#222" stroke-width="0.8" />
<line x1="887.2" y1="610.4" x2="888.4" y2="607.1" stroke="#222" stroke-width="0.8" />
<line x1="873.0" y1="598.2" x2="875.2" y2="595.8" stroke="#222" stroke-width="0.8" />
<line x1="869.9" y1="574.1" x2="872.3" y2="573.6" stroke="#222" stroke-width="0.8" />
<line x1="879.0" y1="547.3" x2="880.8" y2="548.8" stroke="#222" stroke-width="0.8" />
<line x1="896.9" y1="528.0" x2="897.3" y2="531.0" stroke="#222" stroke-width="0.8" />
<line x1="916.8" y1="523.6" x2="915.6" y2="526.9" stroke="#222" stroke-width="0.8" />
<line x1="931.0" y1="535.8" x2="928.8" y2="538.2" stroke="#222" stroke-width="0.8" />
<line x1="934.1" y1="559.9" x2="931.7" y2="560.4" stroke="#222" stroke-width="0.8" />
<ellipse cx="901.5" cy="567.5" rx="23.7" ry="37.0" transform="rotate(23 901.5 567.5)" fill="none" stroke="#222" stroke-width="0.9" />
<ellipse cx="901.5" cy="567.5" rx="21.8" ry="34.0" transform="rotate(23 901.5 567.5)" fill="none" stroke="#222" stroke-width="1.0" />
<clipPath id="b18"><ellipse cx="901.5" cy="567.5" rx="21.8" ry="34" transform="rotate(23 901.5 567.5)"/></clipPath>
<g clip-path="url(#b18)">
<ellipse cx="886.0" cy="560.0" rx="21.8" ry="34.0" transform="rotate(23 886.0 560.0)" fill="none" stroke="#222" stroke-width="0.8" />
</g>
<line x1="854.4" y1="549.2" x2="885.8" y2="562.8" stroke="#222" stroke-width="1.0" />
<line x1="973.4" y1="447.7" x2="907.9" y2="514.4" stroke="#222" stroke-width="0.8" />
<circle cx="907.9" cy="514.4" r="2.2" fill="#333"/>
<circle cx="167.8" cy="73.0" r="8.0" fill="#fff" stroke="#222" stroke-width="1.25"/>
<path d="M1.0,5.4 L3.0,7 L3.0,0" transform="matrix(1.08,0,0.346,-1.33,161.78,77.66)" fill="none" stroke="#111" stroke-width="1.25" vector-effect="non-scaling-stroke" stroke-linecap="round" stroke-linejoin="round"/>
<path d="M3.8,4.6 C3.6,3.5 2.8,2.9 1.9,2.9 C0.9,2.9 0.2,3.7 0.2,4.8 C0.2,6.1 1.0,7 2.1,7 C3.3,7 4.0,5.9 3.9,4.3 C3.8,2 3.3,0 1.8,0 C1.0,0 0.5,0.4 0.3,0.9" transform="matrix(1.08,0,0.346,-1.33,167.08,77.66)" fill="none" stroke="#111" stroke-width="1.25" vector-effect="non-scaling-stroke" stroke-linecap="round" stroke-linejoin="round"/>
<circle cx="272.7" cy="120.0" r="8.0" fill="#fff" stroke="#222" stroke-width="1.25"/>
<path d="M1.0,5.4 L3.0,7 L3.0,0" transform="matrix(1.4,0,0.346,-1.33,268.69,124.66)" fill="none" stroke="#111" stroke-width="1.25" vector-effect="non-scaling-stroke" stroke-linecap="round" stroke-linejoin="round"/>
<circle cx="347.2" cy="153.7" r="8.0" fill="#fff" stroke="#222" stroke-width="1.25"/>
<path d="M1.0,5.4 L3.0,7 L3.0,0" transform="matrix(1.08,0,0.346,-1.33,341.18,158.35)" fill="none" stroke="#111" stroke-width="1.25" vector-effect="non-scaling-stroke" stroke-linecap="round" stroke-linejoin="round"/>
<path d="M1.0,5.4 L3.0,7 L3.0,0" transform="matrix(1.08,0,0.346,-1.33,346.48,158.35)" fill="none" stroke="#111" stroke-width="1.25" vector-effect="non-scaling-stroke" stroke-linecap="round" stroke-linejoin="round"/>
<circle cx="388.3" cy="172.7" r="8.0" fill="#fff" stroke="#222" stroke-width="1.25"/>
<path d="M1.0,5.4 L3.0,7 L3.0,0" transform="matrix(1.08,0,0.346,-1.33,382.28,177.35)" fill="none" stroke="#111" stroke-width="1.25" vector-effect="non-scaling-stroke" stroke-linecap="round" stroke-linejoin="round"/>
<path d="M0.4,5.4 C0.7,6.6 1.7,7.1 2.5,7.05 C3.6,7 4.1,6 3.8,5 C3.6,4.2 2.6,3.3 0.2,0 L4.0,0" transform="matrix(1.08,0,0.346,-1.33,387.58,177.35)" fill="none" stroke="#111" stroke-width="1.25" vector-effect="non-scaling-stroke" stroke-linecap="round" stroke-linejoin="round"/>
<circle cx="429.8" cy="191.7" r="8.0" fill="#fff" stroke="#222" stroke-width="1.25"/>
<path d="M3.0,0 L3.0,7 L0,2 L4.3,2" transform="matrix(1.4,0,0.346,-1.33,425.79,196.35)" fill="none" stroke="#111" stroke-width="1.25" vector-effect="non-scaling-stroke" stroke-linecap="round" stroke-linejoin="round"/>
<circle cx="455.2" cy="203.4" r="8.0" fill="#fff" stroke="#222" stroke-width="1.25"/>
<path d="M3.9,7 L1.0,7 L0.6,3.9 C1.6,4.6 3.9,4.6 4.0,2.3 C4.1,0.3 1.4,-0.3 0.2,1.0" transform="matrix(1.4,0,0.346,-1.33,451.19,208.06)" fill="none" stroke="#111" stroke-width="1.25" vector-effect="non-scaling-stroke" stroke-linecap="round" stroke-linejoin="round"/>
<circle cx="613.0" cy="275.5" r="8.0" fill="#fff" stroke="#222" stroke-width="1.25"/>
<path d="M0.4,5.4 C0.7,6.6 1.7,7.1 2.5,7.05 C3.6,7 4.1,6 3.8,5 C3.6,4.2 2.6,3.3 0.2,0 L4.0,0" transform="matrix(1.4,0,0.346,-1.33,608.99,280.15)" fill="none" stroke="#111" stroke-width="1.25" vector-effect="non-scaling-stroke" stroke-linecap="round" stroke-linejoin="round"/>
<circle cx="680.5" cy="305.4" r="8.0" fill="#fff" stroke="#222" stroke-width="1.25"/>
<path d="M1.0,5.4 L3.0,7 L3.0,0" transform="matrix(1.08,0,0.346,-1.33,674.48,310.05)" fill="none" stroke="#111" stroke-width="1.25" vector-effect="non-scaling-stroke" stroke-linecap="round" stroke-linejoin="round"/>
<path d="M3.0,0 L3.0,7 L0,2 L4.3,2" transform="matrix(1.08,0,0.346,-1.33,679.78,310.05)" fill="none" stroke="#111" stroke-width="1.25" vector-effect="non-scaling-stroke" stroke-linecap="round" stroke-linejoin="round"/>
<circle cx="722.3" cy="323.5" r="8.0" fill="#fff" stroke="#222" stroke-width="1.25"/>
<path d="M1.0,5.4 L3.0,7 L3.0,0" transform="matrix(1.08,0,0.346,-1.33,716.28,328.15)" fill="none" stroke="#111" stroke-width="1.25" vector-effect="non-scaling-stroke" stroke-linecap="round" stroke-linejoin="round"/>
<path d="M3.9,7 L1.0,7 L0.6,3.9 C1.6,4.6 3.9,4.6 4.0,2.3 C4.1,0.3 1.4,-0.3 0.2,1.0" transform="matrix(1.08,0,0.346,-1.33,721.58,328.15)" fill="none" stroke="#111" stroke-width="1.25" vector-effect="non-scaling-stroke" stroke-linecap="round" stroke-linejoin="round"/>
<circle cx="816.0" cy="367.0" r="8.0" fill="#fff" stroke="#222" stroke-width="1.25"/>
<path d="M0.5,6.1 C1.1,7.1 3.6,7.3 3.7,5.6 C3.8,4.3 2.5,3.9 1.5,3.9 C2.8,3.9 4.1,3.3 4.0,1.9 C3.9,0.2 1.2,-0.3 0.2,1.0" transform="matrix(1.4,0,0.346,-1.33,811.99,371.65)" fill="none" stroke="#111" stroke-width="1.25" vector-effect="non-scaling-stroke" stroke-linecap="round" stroke-linejoin="round"/>
<circle cx="860.3" cy="386.4" r="8.0" fill="#fff" stroke="#222" stroke-width="1.25"/>
<path d="M1.0,5.4 L3.0,7 L3.0,0" transform="matrix(1.08,0,0.346,-1.33,854.28,391.05)" fill="none" stroke="#111" stroke-width="1.25" vector-effect="non-scaling-stroke" stroke-linecap="round" stroke-linejoin="round"/>
<path d="M3.6,6.4 C2.8,7.3 0.9,7.1 0.5,4.6 C0.1,2 0.6,0 2.2,0 C3.6,0 4.0,1.2 4.0,2.2 C4.0,3.4 3.1,4.2 2.1,4.2 C1.2,4.2 0.5,3.4 0.4,2.5" transform="matrix(1.08,0,0.346,-1.33,859.58,391.05)" fill="none" stroke="#111" stroke-width="1.25" vector-effect="non-scaling-stroke" stroke-linecap="round" stroke-linejoin="round"/>
<circle cx="922.0" cy="416.0" r="8.0" fill="#fff" stroke="#222" stroke-width="1.25"/>
<path d="M2.0,3.9 C0.9,3.9 0.5,4.7 0.5,5.4 C0.5,6.4 1.2,7 2.1,7 C3.0,7 3.7,6.4 3.7,5.4 C3.7,4.6 3.1,3.9 2.0,3.9 C0.9,3.9 0.2,3.1 0.2,2 C0.2,0.7 1.0,0 2.1,0 C3.2,0 4.0,0.7 4.0,2 C4.0,3.1 3.2,3.9 2.0,3.9 Z" transform="matrix(1.4,0,0.346,-1.33,917.99,420.65)" fill="none" stroke="#111" stroke-width="1.25" vector-effect="non-scaling-stroke" stroke-linecap="round" stroke-linejoin="round"/>
<circle cx="979.0" cy="442.0" r="8.0" fill="#fff" stroke="#222" stroke-width="1.25"/>
<path d="M1.0,5.4 L3.0,7 L3.0,0" transform="matrix(1.08,0,0.346,-1.33,972.98,446.65)" fill="none" stroke="#111" stroke-width="1.25" vector-effect="non-scaling-stroke" stroke-linecap="round" stroke-linejoin="round"/>
<path d="M2.0,3.9 C0.9,3.9 0.5,4.7 0.5,5.4 C0.5,6.4 1.2,7 2.1,7 C3.0,7 3.7,6.4 3.7,5.4 C3.7,4.6 3.1,3.9 2.0,3.9 C0.9,3.9 0.2,3.1 0.2,2 C0.2,0.7 1.0,0 2.1,0 C3.2,0 4.0,0.7 4.0,2 C4.0,3.1 3.2,3.9 2.0,3.9 Z" transform="matrix(1.08,0,0.346,-1.33,978.28,446.65)" fill="none" stroke="#111" stroke-width="1.25" vector-effect="non-scaling-stroke" stroke-linecap="round" stroke-linejoin="round"/>
<circle cx="759.0" cy="661.0" r="8.0" fill="#fff" stroke="#222" stroke-width="1.25"/>
<path d="M1.0,5.4 L3.0,7 L3.0,0" transform="matrix(1.08,0,0.346,-1.33,752.98,665.65)" fill="none" stroke="#111" stroke-width="1.25" vector-effect="non-scaling-stroke" stroke-linecap="round" stroke-linejoin="round"/>
<path d="M0.2,7 L4.1,7 L1.2,0" transform="matrix(1.08,0,0.346,-1.33,758.28,665.65)" fill="none" stroke="#111" stroke-width="1.25" vector-effect="non-scaling-stroke" stroke-linecap="round" stroke-linejoin="round"/>
<circle cx="569.3" cy="576.8" r="8.0" fill="#fff" stroke="#222" stroke-width="1.25"/>
<path d="M3.8,4.6 C3.6,3.5 2.8,2.9 1.9,2.9 C0.9,2.9 0.2,3.7 0.2,4.8 C0.2,6.1 1.0,7 2.1,7 C3.3,7 4.0,5.9 3.9,4.3 C3.8,2 3.3,0 1.8,0 C1.0,0 0.5,0.4 0.3,0.9" transform="matrix(1.4,0,0.346,-1.33,565.29,581.45)" fill="none" stroke="#111" stroke-width="1.25" vector-effect="non-scaling-stroke" stroke-linecap="round" stroke-linejoin="round"/>
<circle cx="522.8" cy="555.6" r="8.0" fill="#fff" stroke="#222" stroke-width="1.25"/>
<path d="M0.2,7 L4.1,7 L1.2,0" transform="matrix(1.4,0,0.346,-1.33,518.79,560.25)" fill="none" stroke="#111" stroke-width="1.25" vector-effect="non-scaling-stroke" stroke-linecap="round" stroke-linejoin="round"/>
<circle cx="420.0" cy="509.0" r="8.0" fill="#fff" stroke="#222" stroke-width="1.25"/>
<path d="M1.0,5.4 L3.0,7 L3.0,0" transform="matrix(1.08,0,0.346,-1.33,413.98,513.65)" fill="none" stroke="#111" stroke-width="1.25" vector-effect="non-scaling-stroke" stroke-linecap="round" stroke-linejoin="round"/>
<path d="M2.1,7 C0.9,7 0.2,5.4 0.2,3.5 C0.2,1.5 0.9,0 2.1,0 C3.3,0 4,1.5 4,3.5 C4,5.4 3.3,7 2.1,7 Z" transform="matrix(1.08,0,0.346,-1.33,419.28,513.65)" fill="none" stroke="#111" stroke-width="1.25" vector-effect="non-scaling-stroke" stroke-linecap="round" stroke-linejoin="round"/>
<circle cx="320.7" cy="464.4" r="8.0" fill="#fff" stroke="#222" stroke-width="1.25"/>
<path d="M1.0,5.4 L3.0,7 L3.0,0" transform="matrix(1.08,0,0.346,-1.33,314.68,469.05)" fill="none" stroke="#111" stroke-width="1.25" vector-effect="non-scaling-stroke" stroke-linecap="round" stroke-linejoin="round"/>
<path d="M0.5,6.1 C1.1,7.1 3.6,7.3 3.7,5.6 C3.8,4.3 2.5,3.9 1.5,3.9 C2.8,3.9 4.1,3.3 4.0,1.9 C3.9,0.2 1.2,-0.3 0.2,1.0" transform="matrix(1.08,0,0.346,-1.33,319.98,469.05)" fill="none" stroke="#111" stroke-width="1.25" vector-effect="non-scaling-stroke" stroke-linecap="round" stroke-linejoin="round"/>
<circle cx="272.2" cy="443.3" r="8.0" fill="#fff" stroke="#222" stroke-width="1.25"/>
<path d="M3.6,6.4 C2.8,7.3 0.9,7.1 0.5,4.6 C0.1,2 0.6,0 2.2,0 C3.6,0 4.0,1.2 4.0,2.2 C4.0,3.4 3.1,4.2 2.1,4.2 C1.2,4.2 0.5,3.4 0.4,2.5" transform="matrix(1.4,0,0.346,-1.33,268.19,447.95)" fill="none" stroke="#111" stroke-width="1.25" vector-effect="non-scaling-stroke" stroke-linecap="round" stroke-linejoin="round"/>
</svg>
</body></html>
